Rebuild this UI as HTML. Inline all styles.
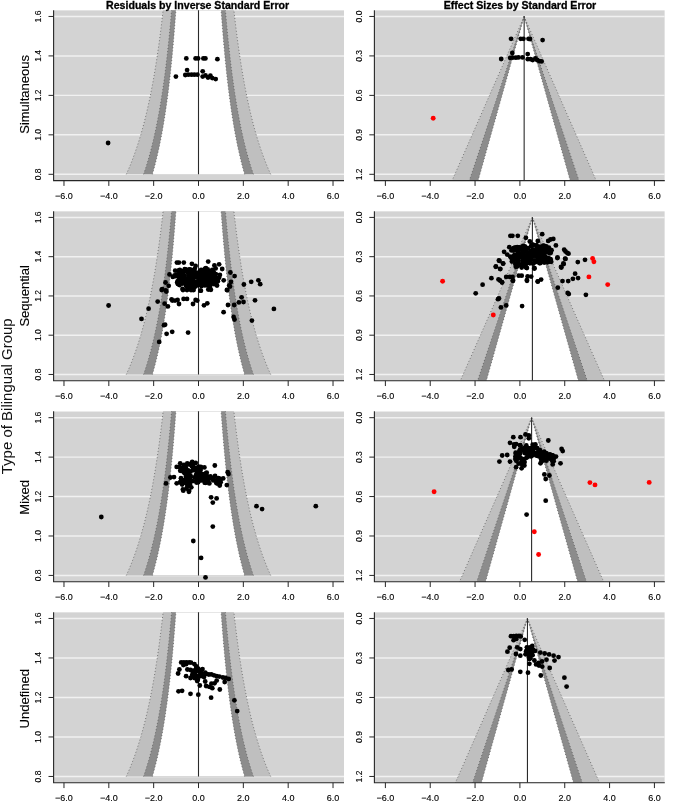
<!DOCTYPE html>
<html><head><meta charset="utf-8"><style>html,body{margin:0;padding:0;background:#fff;overflow:hidden}svg{display:block}svg{will-change:transform}</style></head>
<body>
<svg width="676" height="802" viewBox="0 0 676 802">
<style>.tk{font:9px "Liberation Sans",sans-serif;fill:#000;stroke:#000;stroke-width:0.12}.ty{font-size:8.5px}.rl{font:13px "Liberation Sans",sans-serif;fill:#000;stroke:#000;stroke-width:0.12}.bl{font:15px "Liberation Sans",sans-serif;fill:#111}.tt{font:bold 10.6px "Liberation Sans",sans-serif;fill:#000;stroke:#000;stroke-width:0.3}</style>
<rect width="676" height="802" fill="#fff"/>
<clipPath id="c0L"><rect x="54.0" y="10.15" width="290" height="170.47"/></clipPath>
<g clip-path="url(#c0L)">
<rect x="54.0" y="10.15" width="290" height="170.47" fill="#d3d3d3"/>
<line x1="54.0" y1="16.46" x2="344.0" y2="16.46" stroke="#f1f1f1" stroke-width="1.45"/>
<line x1="54.0" y1="55.92" x2="344.0" y2="55.92" stroke="#f1f1f1" stroke-width="1.45"/>
<line x1="54.0" y1="95.38" x2="344.0" y2="95.38" stroke="#f1f1f1" stroke-width="1.45"/>
<line x1="54.0" y1="134.84" x2="344.0" y2="134.84" stroke="#f1f1f1" stroke-width="1.45"/>
<line x1="54.0" y1="174.3" x2="344.0" y2="174.3" stroke="#f1f1f1" stroke-width="1.45"/>
<path d="M126.31,174.3 L127.2,172.33 L128.07,170.35 L128.92,168.38 L129.75,166.41 L130.56,164.44 L131.35,162.46 L132.12,160.49 L132.88,158.52 L133.61,156.54 L134.33,154.57 L135.04,152.6 L135.73,150.62 L136.4,148.65 L137.06,146.68 L137.71,144.71 L138.34,142.73 L138.96,140.76 L139.57,138.79 L140.17,136.81 L140.75,134.84 L141.32,132.87 L141.88,130.89 L142.43,128.92 L142.97,126.95 L143.5,124.98 L144.02,123 L144.53,121.03 L145.03,119.06 L145.52,117.08 L146,115.11 L146.47,113.14 L146.94,111.16 L147.39,109.19 L147.84,107.22 L148.28,105.24 L148.72,103.27 L149.14,101.3 L149.56,99.33 L149.97,97.35 L150.38,95.38 L150.77,93.41 L151.16,91.43 L151.55,89.46 L151.93,87.49 L152.3,85.52 L152.67,83.54 L153.03,81.57 L153.38,79.6 L153.73,77.62 L154.08,75.65 L154.42,73.68 L154.75,71.7 L155.08,69.73 L155.4,67.76 L155.72,65.78 L156.04,63.81 L156.35,61.84 L156.65,59.87 L156.95,57.89 L157.25,55.92 L157.54,53.95 L157.83,51.97 L158.12,50 L158.4,48.03 L158.67,46.05 L158.95,44.08 L159.21,42.11 L159.48,40.14 L159.74,38.16 L160,36.19 L160.26,34.22 L160.51,32.24 L160.76,30.27 L161,28.3 L161.24,26.33 L161.48,24.35 L161.72,22.38 L161.95,20.41 L162.18,18.43 L162.41,16.46 L162.63,14.49 L162.85,12.51 L163.07,10.54 L163.29,8.57 L163.5,6.6 L163.71,4.62 L163.92,2.65 L164.13,0.68 L164.33,-1.3 L232.67,-1.3 L232.87,0.68 L233.08,2.65 L233.29,4.62 L233.5,6.6 L233.71,8.57 L233.93,10.54 L234.15,12.51 L234.37,14.49 L234.59,16.46 L234.82,18.43 L235.05,20.41 L235.28,22.38 L235.52,24.35 L235.76,26.33 L236,28.3 L236.24,30.27 L236.49,32.24 L236.74,34.22 L237,36.19 L237.26,38.16 L237.52,40.14 L237.79,42.11 L238.05,44.08 L238.33,46.05 L238.6,48.03 L238.88,50 L239.17,51.97 L239.46,53.95 L239.75,55.92 L240.05,57.89 L240.35,59.87 L240.65,61.84 L240.96,63.81 L241.28,65.78 L241.6,67.76 L241.92,69.73 L242.25,71.7 L242.58,73.68 L242.92,75.65 L243.27,77.62 L243.62,79.6 L243.97,81.57 L244.33,83.54 L244.7,85.52 L245.07,87.49 L245.45,89.46 L245.84,91.43 L246.23,93.41 L246.62,95.38 L247.03,97.35 L247.44,99.33 L247.86,101.3 L248.28,103.27 L248.72,105.24 L249.16,107.22 L249.61,109.19 L250.06,111.16 L250.53,113.14 L251,115.11 L251.48,117.08 L251.97,119.06 L252.47,121.03 L252.98,123 L253.5,124.98 L254.03,126.95 L254.57,128.92 L255.12,130.89 L255.68,132.87 L256.25,134.84 L256.83,136.81 L257.43,138.79 L258.04,140.76 L258.66,142.73 L259.29,144.71 L259.94,146.68 L260.6,148.65 L261.27,150.62 L261.96,152.6 L262.67,154.57 L263.39,156.54 L264.12,158.52 L264.88,160.49 L265.65,162.46 L266.44,164.44 L267.25,166.41 L268.08,168.38 L268.93,170.35 L269.8,172.33 L270.69,174.3Z" fill="#bfbfbf"/>
<path d="M143.57,174.3 L144.25,172.33 L144.91,170.35 L145.56,168.38 L146.19,166.41 L146.8,164.44 L147.4,162.46 L147.99,160.49 L148.56,158.52 L149.13,156.54 L149.67,154.57 L150.21,152.6 L150.74,150.62 L151.25,148.65 L151.75,146.68 L152.24,144.71 L152.73,142.73 L153.2,140.76 L153.66,138.79 L154.11,136.81 L154.56,134.84 L154.99,132.87 L155.42,130.89 L155.84,128.92 L156.25,126.95 L156.65,124.98 L157.04,123 L157.43,121.03 L157.81,119.06 L158.19,117.08 L158.55,115.11 L158.91,113.14 L159.26,111.16 L159.61,109.19 L159.95,107.22 L160.29,105.24 L160.62,103.27 L160.94,101.3 L161.26,99.33 L161.57,97.35 L161.88,95.38 L162.18,93.41 L162.48,91.43 L162.77,89.46 L163.06,87.49 L163.35,85.52 L163.62,83.54 L163.9,81.57 L164.17,79.6 L164.44,77.62 L164.7,75.65 L164.96,73.68 L165.21,71.7 L165.46,69.73 L165.71,67.76 L165.95,65.78 L166.19,63.81 L166.42,61.84 L166.66,59.87 L166.89,57.89 L167.11,55.92 L167.33,53.95 L167.55,51.97 L167.77,50 L167.98,48.03 L168.19,46.05 L168.4,44.08 L168.61,42.11 L168.81,40.14 L169.01,38.16 L169.2,36.19 L169.4,34.22 L169.59,32.24 L169.78,30.27 L169.97,28.3 L170.15,26.33 L170.33,24.35 L170.51,22.38 L170.69,20.41 L170.86,18.43 L171.04,16.46 L171.21,14.49 L171.37,12.51 L171.54,10.54 L171.71,8.57 L171.87,6.6 L172.03,4.62 L172.19,2.65 L172.34,0.68 L172.5,-1.3 L224.5,-1.3 L224.66,0.68 L224.81,2.65 L224.97,4.62 L225.13,6.6 L225.29,8.57 L225.46,10.54 L225.63,12.51 L225.79,14.49 L225.96,16.46 L226.14,18.43 L226.31,20.41 L226.49,22.38 L226.67,24.35 L226.85,26.33 L227.03,28.3 L227.22,30.27 L227.41,32.24 L227.6,34.22 L227.8,36.19 L227.99,38.16 L228.19,40.14 L228.39,42.11 L228.6,44.08 L228.81,46.05 L229.02,48.03 L229.23,50 L229.45,51.97 L229.67,53.95 L229.89,55.92 L230.11,57.89 L230.34,59.87 L230.58,61.84 L230.81,63.81 L231.05,65.78 L231.29,67.76 L231.54,69.73 L231.79,71.7 L232.04,73.68 L232.3,75.65 L232.56,77.62 L232.83,79.6 L233.1,81.57 L233.38,83.54 L233.65,85.52 L233.94,87.49 L234.23,89.46 L234.52,91.43 L234.82,93.41 L235.12,95.38 L235.43,97.35 L235.74,99.33 L236.06,101.3 L236.38,103.27 L236.71,105.24 L237.05,107.22 L237.39,109.19 L237.74,111.16 L238.09,113.14 L238.45,115.11 L238.81,117.08 L239.19,119.06 L239.57,121.03 L239.96,123 L240.35,124.98 L240.75,126.95 L241.16,128.92 L241.58,130.89 L242.01,132.87 L242.44,134.84 L242.89,136.81 L243.34,138.79 L243.8,140.76 L244.27,142.73 L244.76,144.71 L245.25,146.68 L245.75,148.65 L246.26,150.62 L246.79,152.6 L247.33,154.57 L247.87,156.54 L248.44,158.52 L249.01,160.49 L249.6,162.46 L250.2,164.44 L250.81,166.41 L251.44,168.38 L252.09,170.35 L252.75,172.33 L253.43,174.3Z" fill="#8c8c8c"/>
<path d="M152.4,174.3 L152.97,172.33 L153.53,170.35 L154.07,168.38 L154.6,166.41 L155.11,164.44 L155.62,162.46 L156.11,160.49 L156.59,158.52 L157.06,156.54 L157.52,154.57 L157.97,152.6 L158.41,150.62 L158.85,148.65 L159.27,146.68 L159.68,144.71 L160.08,142.73 L160.48,140.76 L160.87,138.79 L161.25,136.81 L161.62,134.84 L161.99,132.87 L162.34,130.89 L162.7,128.92 L163.04,126.95 L163.38,124.98 L163.71,123 L164.03,121.03 L164.35,119.06 L164.67,117.08 L164.97,115.11 L165.28,113.14 L165.57,111.16 L165.86,109.19 L166.15,107.22 L166.43,105.24 L166.71,103.27 L166.98,101.3 L167.25,99.33 L167.51,97.35 L167.77,95.38 L168.02,93.41 L168.27,91.43 L168.52,89.46 L168.76,87.49 L169,85.52 L169.23,83.54 L169.46,81.57 L169.69,79.6 L169.91,77.62 L170.13,75.65 L170.35,73.68 L170.56,71.7 L170.77,69.73 L170.98,67.76 L171.18,65.78 L171.38,63.81 L171.58,61.84 L171.78,59.87 L171.97,57.89 L172.16,55.92 L172.34,53.95 L172.53,51.97 L172.71,50 L172.89,48.03 L173.07,46.05 L173.24,44.08 L173.41,42.11 L173.58,40.14 L173.75,38.16 L173.91,36.19 L174.08,34.22 L174.24,32.24 L174.4,30.27 L174.55,28.3 L174.71,26.33 L174.86,24.35 L175.01,22.38 L175.16,20.41 L175.31,18.43 L175.45,16.46 L175.59,14.49 L175.74,12.51 L175.88,10.54 L176.01,8.57 L176.15,6.6 L176.28,4.62 L176.42,2.65 L176.55,0.68 L176.68,-1.3 L220.32,-1.3 L220.45,0.68 L220.58,2.65 L220.72,4.62 L220.85,6.6 L220.99,8.57 L221.12,10.54 L221.26,12.51 L221.41,14.49 L221.55,16.46 L221.69,18.43 L221.84,20.41 L221.99,22.38 L222.14,24.35 L222.29,26.33 L222.45,28.3 L222.6,30.27 L222.76,32.24 L222.92,34.22 L223.09,36.19 L223.25,38.16 L223.42,40.14 L223.59,42.11 L223.76,44.08 L223.93,46.05 L224.11,48.03 L224.29,50 L224.47,51.97 L224.66,53.95 L224.84,55.92 L225.03,57.89 L225.22,59.87 L225.42,61.84 L225.62,63.81 L225.82,65.78 L226.02,67.76 L226.23,69.73 L226.44,71.7 L226.65,73.68 L226.87,75.65 L227.09,77.62 L227.31,79.6 L227.54,81.57 L227.77,83.54 L228,85.52 L228.24,87.49 L228.48,89.46 L228.73,91.43 L228.98,93.41 L229.23,95.38 L229.49,97.35 L229.75,99.33 L230.02,101.3 L230.29,103.27 L230.57,105.24 L230.85,107.22 L231.14,109.19 L231.43,111.16 L231.72,113.14 L232.03,115.11 L232.33,117.08 L232.65,119.06 L232.97,121.03 L233.29,123 L233.62,124.98 L233.96,126.95 L234.3,128.92 L234.66,130.89 L235.01,132.87 L235.38,134.84 L235.75,136.81 L236.13,138.79 L236.52,140.76 L236.92,142.73 L237.32,144.71 L237.73,146.68 L238.15,148.65 L238.59,150.62 L239.03,152.6 L239.48,154.57 L239.94,156.54 L240.41,158.52 L240.89,160.49 L241.38,162.46 L241.89,164.44 L242.4,166.41 L242.93,168.38 L243.47,170.35 L244.03,172.33 L244.6,174.3Z" fill="#ffffff"/>
<path d="M152.4,174.3 L152.97,172.33 L153.53,170.35 L154.07,168.38 L154.6,166.41 L155.11,164.44 L155.62,162.46 L156.11,160.49 L156.59,158.52 L157.06,156.54 L157.52,154.57 L157.97,152.6 L158.41,150.62 L158.85,148.65 L159.27,146.68 L159.68,144.71 L160.08,142.73 L160.48,140.76 L160.87,138.79 L161.25,136.81 L161.62,134.84 L161.99,132.87 L162.34,130.89 L162.7,128.92 L163.04,126.95 L163.38,124.98 L163.71,123 L164.03,121.03 L164.35,119.06 L164.67,117.08 L164.97,115.11 L165.28,113.14 L165.57,111.16 L165.86,109.19 L166.15,107.22 L166.43,105.24 L166.71,103.27 L166.98,101.3 L167.25,99.33 L167.51,97.35 L167.77,95.38 L168.02,93.41 L168.27,91.43 L168.52,89.46 L168.76,87.49 L169,85.52 L169.23,83.54 L169.46,81.57 L169.69,79.6 L169.91,77.62 L170.13,75.65 L170.35,73.68 L170.56,71.7 L170.77,69.73 L170.98,67.76 L171.18,65.78 L171.38,63.81 L171.58,61.84 L171.78,59.87 L171.97,57.89 L172.16,55.92 L172.34,53.95 L172.53,51.97 L172.71,50 L172.89,48.03 L173.07,46.05 L173.24,44.08 L173.41,42.11 L173.58,40.14 L173.75,38.16 L173.91,36.19 L174.08,34.22 L174.24,32.24 L174.4,30.27 L174.55,28.3 L174.71,26.33 L174.86,24.35 L175.01,22.38 L175.16,20.41 L175.31,18.43 L175.45,16.46 L175.59,14.49 L175.74,12.51 L175.88,10.54 L176.01,8.57 L176.15,6.6 L176.28,4.62 L176.42,2.65 L176.55,0.68 L176.68,-1.3" fill="none" stroke="#555" stroke-width="0.8" stroke-dasharray="0.9 2.3"/>
<path d="M244.6,174.3 L244.03,172.33 L243.47,170.35 L242.93,168.38 L242.4,166.41 L241.89,164.44 L241.38,162.46 L240.89,160.49 L240.41,158.52 L239.94,156.54 L239.48,154.57 L239.03,152.6 L238.59,150.62 L238.15,148.65 L237.73,146.68 L237.32,144.71 L236.92,142.73 L236.52,140.76 L236.13,138.79 L235.75,136.81 L235.38,134.84 L235.01,132.87 L234.66,130.89 L234.3,128.92 L233.96,126.95 L233.62,124.98 L233.29,123 L232.97,121.03 L232.65,119.06 L232.33,117.08 L232.03,115.11 L231.72,113.14 L231.43,111.16 L231.14,109.19 L230.85,107.22 L230.57,105.24 L230.29,103.27 L230.02,101.3 L229.75,99.33 L229.49,97.35 L229.23,95.38 L228.98,93.41 L228.73,91.43 L228.48,89.46 L228.24,87.49 L228,85.52 L227.77,83.54 L227.54,81.57 L227.31,79.6 L227.09,77.62 L226.87,75.65 L226.65,73.68 L226.44,71.7 L226.23,69.73 L226.02,67.76 L225.82,65.78 L225.62,63.81 L225.42,61.84 L225.22,59.87 L225.03,57.89 L224.84,55.92 L224.66,53.95 L224.47,51.97 L224.29,50 L224.11,48.03 L223.93,46.05 L223.76,44.08 L223.59,42.11 L223.42,40.14 L223.25,38.16 L223.09,36.19 L222.92,34.22 L222.76,32.24 L222.6,30.27 L222.45,28.3 L222.29,26.33 L222.14,24.35 L221.99,22.38 L221.84,20.41 L221.69,18.43 L221.55,16.46 L221.41,14.49 L221.26,12.51 L221.12,10.54 L220.99,8.57 L220.85,6.6 L220.72,4.62 L220.58,2.65 L220.45,0.68 L220.32,-1.3" fill="none" stroke="#555" stroke-width="0.8" stroke-dasharray="0.9 2.3"/>
<path d="M143.57,174.3 L144.25,172.33 L144.91,170.35 L145.56,168.38 L146.19,166.41 L146.8,164.44 L147.4,162.46 L147.99,160.49 L148.56,158.52 L149.13,156.54 L149.67,154.57 L150.21,152.6 L150.74,150.62 L151.25,148.65 L151.75,146.68 L152.24,144.71 L152.73,142.73 L153.2,140.76 L153.66,138.79 L154.11,136.81 L154.56,134.84 L154.99,132.87 L155.42,130.89 L155.84,128.92 L156.25,126.95 L156.65,124.98 L157.04,123 L157.43,121.03 L157.81,119.06 L158.19,117.08 L158.55,115.11 L158.91,113.14 L159.26,111.16 L159.61,109.19 L159.95,107.22 L160.29,105.24 L160.62,103.27 L160.94,101.3 L161.26,99.33 L161.57,97.35 L161.88,95.38 L162.18,93.41 L162.48,91.43 L162.77,89.46 L163.06,87.49 L163.35,85.52 L163.62,83.54 L163.9,81.57 L164.17,79.6 L164.44,77.62 L164.7,75.65 L164.96,73.68 L165.21,71.7 L165.46,69.73 L165.71,67.76 L165.95,65.78 L166.19,63.81 L166.42,61.84 L166.66,59.87 L166.89,57.89 L167.11,55.92 L167.33,53.95 L167.55,51.97 L167.77,50 L167.98,48.03 L168.19,46.05 L168.4,44.08 L168.61,42.11 L168.81,40.14 L169.01,38.16 L169.2,36.19 L169.4,34.22 L169.59,32.24 L169.78,30.27 L169.97,28.3 L170.15,26.33 L170.33,24.35 L170.51,22.38 L170.69,20.41 L170.86,18.43 L171.04,16.46 L171.21,14.49 L171.37,12.51 L171.54,10.54 L171.71,8.57 L171.87,6.6 L172.03,4.62 L172.19,2.65 L172.34,0.68 L172.5,-1.3" fill="none" stroke="#555" stroke-width="0.8" stroke-dasharray="0.9 2.3"/>
<path d="M253.43,174.3 L252.75,172.33 L252.09,170.35 L251.44,168.38 L250.81,166.41 L250.2,164.44 L249.6,162.46 L249.01,160.49 L248.44,158.52 L247.87,156.54 L247.33,154.57 L246.79,152.6 L246.26,150.62 L245.75,148.65 L245.25,146.68 L244.76,144.71 L244.27,142.73 L243.8,140.76 L243.34,138.79 L242.89,136.81 L242.44,134.84 L242.01,132.87 L241.58,130.89 L241.16,128.92 L240.75,126.95 L240.35,124.98 L239.96,123 L239.57,121.03 L239.19,119.06 L238.81,117.08 L238.45,115.11 L238.09,113.14 L237.74,111.16 L237.39,109.19 L237.05,107.22 L236.71,105.24 L236.38,103.27 L236.06,101.3 L235.74,99.33 L235.43,97.35 L235.12,95.38 L234.82,93.41 L234.52,91.43 L234.23,89.46 L233.94,87.49 L233.65,85.52 L233.38,83.54 L233.1,81.57 L232.83,79.6 L232.56,77.62 L232.3,75.65 L232.04,73.68 L231.79,71.7 L231.54,69.73 L231.29,67.76 L231.05,65.78 L230.81,63.81 L230.58,61.84 L230.34,59.87 L230.11,57.89 L229.89,55.92 L229.67,53.95 L229.45,51.97 L229.23,50 L229.02,48.03 L228.81,46.05 L228.6,44.08 L228.39,42.11 L228.19,40.14 L227.99,38.16 L227.8,36.19 L227.6,34.22 L227.41,32.24 L227.22,30.27 L227.03,28.3 L226.85,26.33 L226.67,24.35 L226.49,22.38 L226.31,20.41 L226.14,18.43 L225.96,16.46 L225.79,14.49 L225.63,12.51 L225.46,10.54 L225.29,8.57 L225.13,6.6 L224.97,4.62 L224.81,2.65 L224.66,0.68 L224.5,-1.3" fill="none" stroke="#555" stroke-width="0.8" stroke-dasharray="0.9 2.3"/>
<path d="M126.31,174.3 L127.2,172.33 L128.07,170.35 L128.92,168.38 L129.75,166.41 L130.56,164.44 L131.35,162.46 L132.12,160.49 L132.88,158.52 L133.61,156.54 L134.33,154.57 L135.04,152.6 L135.73,150.62 L136.4,148.65 L137.06,146.68 L137.71,144.71 L138.34,142.73 L138.96,140.76 L139.57,138.79 L140.17,136.81 L140.75,134.84 L141.32,132.87 L141.88,130.89 L142.43,128.92 L142.97,126.95 L143.5,124.98 L144.02,123 L144.53,121.03 L145.03,119.06 L145.52,117.08 L146,115.11 L146.47,113.14 L146.94,111.16 L147.39,109.19 L147.84,107.22 L148.28,105.24 L148.72,103.27 L149.14,101.3 L149.56,99.33 L149.97,97.35 L150.38,95.38 L150.77,93.41 L151.16,91.43 L151.55,89.46 L151.93,87.49 L152.3,85.52 L152.67,83.54 L153.03,81.57 L153.38,79.6 L153.73,77.62 L154.08,75.65 L154.42,73.68 L154.75,71.7 L155.08,69.73 L155.4,67.76 L155.72,65.78 L156.04,63.81 L156.35,61.84 L156.65,59.87 L156.95,57.89 L157.25,55.92 L157.54,53.95 L157.83,51.97 L158.12,50 L158.4,48.03 L158.67,46.05 L158.95,44.08 L159.21,42.11 L159.48,40.14 L159.74,38.16 L160,36.19 L160.26,34.22 L160.51,32.24 L160.76,30.27 L161,28.3 L161.24,26.33 L161.48,24.35 L161.72,22.38 L161.95,20.41 L162.18,18.43 L162.41,16.46 L162.63,14.49 L162.85,12.51 L163.07,10.54 L163.29,8.57 L163.5,6.6 L163.71,4.62 L163.92,2.65 L164.13,0.68 L164.33,-1.3" fill="none" stroke="#555" stroke-width="0.8" stroke-dasharray="0.9 2.3"/>
<path d="M270.69,174.3 L269.8,172.33 L268.93,170.35 L268.08,168.38 L267.25,166.41 L266.44,164.44 L265.65,162.46 L264.88,160.49 L264.12,158.52 L263.39,156.54 L262.67,154.57 L261.96,152.6 L261.27,150.62 L260.6,148.65 L259.94,146.68 L259.29,144.71 L258.66,142.73 L258.04,140.76 L257.43,138.79 L256.83,136.81 L256.25,134.84 L255.68,132.87 L255.12,130.89 L254.57,128.92 L254.03,126.95 L253.5,124.98 L252.98,123 L252.47,121.03 L251.97,119.06 L251.48,117.08 L251,115.11 L250.53,113.14 L250.06,111.16 L249.61,109.19 L249.16,107.22 L248.72,105.24 L248.28,103.27 L247.86,101.3 L247.44,99.33 L247.03,97.35 L246.62,95.38 L246.23,93.41 L245.84,91.43 L245.45,89.46 L245.07,87.49 L244.7,85.52 L244.33,83.54 L243.97,81.57 L243.62,79.6 L243.27,77.62 L242.92,75.65 L242.58,73.68 L242.25,71.7 L241.92,69.73 L241.6,67.76 L241.28,65.78 L240.96,63.81 L240.65,61.84 L240.35,59.87 L240.05,57.89 L239.75,55.92 L239.46,53.95 L239.17,51.97 L238.88,50 L238.6,48.03 L238.33,46.05 L238.05,44.08 L237.79,42.11 L237.52,40.14 L237.26,38.16 L237,36.19 L236.74,34.22 L236.49,32.24 L236.24,30.27 L236,28.3 L235.76,26.33 L235.52,24.35 L235.28,22.38 L235.05,20.41 L234.82,18.43 L234.59,16.46 L234.37,14.49 L234.15,12.51 L233.93,10.54 L233.71,8.57 L233.5,6.6 L233.29,4.62 L233.08,2.65 L232.87,0.68 L232.67,-1.3" fill="none" stroke="#555" stroke-width="0.8" stroke-dasharray="0.9 2.3"/>
<line x1="198.5" y1="9.15" x2="198.5" y2="174.3" stroke="#2a2a2a" stroke-width="1.1"/>
<circle cx="186.3" cy="58.4" r="2.4"/>
<circle cx="195.6" cy="58.4" r="2.4"/>
<circle cx="198.1" cy="58.4" r="2.4"/>
<circle cx="203.4" cy="58.4" r="2.4"/>
<circle cx="205.4" cy="58.4" r="2.4"/>
<circle cx="217.4" cy="59.2" r="2.4"/>
<circle cx="187.1" cy="70.1" r="2.4"/>
<circle cx="175.9" cy="76.6" r="2.4"/>
<circle cx="185.3" cy="75" r="2.4"/>
<circle cx="188.4" cy="74.7" r="2.4"/>
<circle cx="191.5" cy="74.7" r="2.4"/>
<circle cx="194.3" cy="74.7" r="2.4"/>
<circle cx="197.4" cy="74.7" r="2.4"/>
<circle cx="202.7" cy="71.3" r="2.4"/>
<circle cx="202.7" cy="76.6" r="2.4"/>
<circle cx="205.5" cy="75.4" r="2.4"/>
<circle cx="208" cy="77.5" r="2.4"/>
<circle cx="210.4" cy="75.7" r="2.4"/>
<circle cx="212.3" cy="78.1" r="2.4"/>
<circle cx="215.7" cy="79.1" r="2.4"/>
<circle cx="108.1" cy="143" r="2.4"/>
</g>
<path d="M53.6,10.15 V180.61 H344.0" fill="none" stroke="#262626" stroke-width="1.1"/>
<line x1="48.5" y1="16.46" x2="53.6" y2="16.46" stroke="#262626" stroke-width="1"/>
<text x="40.9" y="16.46" transform="rotate(-90 40.9 16.46)" class="tk ty" text-anchor="middle">1.6</text>
<line x1="48.5" y1="55.92" x2="53.6" y2="55.92" stroke="#262626" stroke-width="1"/>
<text x="40.9" y="55.92" transform="rotate(-90 40.9 55.92)" class="tk ty" text-anchor="middle">1.4</text>
<line x1="48.5" y1="95.38" x2="53.6" y2="95.38" stroke="#262626" stroke-width="1"/>
<text x="40.9" y="95.38" transform="rotate(-90 40.9 95.38)" class="tk ty" text-anchor="middle">1.2</text>
<line x1="48.5" y1="134.84" x2="53.6" y2="134.84" stroke="#262626" stroke-width="1"/>
<text x="40.9" y="134.84" transform="rotate(-90 40.9 134.84)" class="tk ty" text-anchor="middle">1.0</text>
<line x1="48.5" y1="174.3" x2="53.6" y2="174.3" stroke="#262626" stroke-width="1"/>
<text x="40.9" y="174.3" transform="rotate(-90 40.9 174.3)" class="tk ty" text-anchor="middle">0.8</text>
<line x1="63.98" y1="180.61" x2="63.98" y2="185.91" stroke="#262626" stroke-width="1"/>
<text x="63.98" y="198.91" class="tk" text-anchor="middle">−6.0</text>
<line x1="108.82" y1="180.61" x2="108.82" y2="185.91" stroke="#262626" stroke-width="1"/>
<text x="108.82" y="198.91" class="tk" text-anchor="middle">−4.0</text>
<line x1="153.66" y1="180.61" x2="153.66" y2="185.91" stroke="#262626" stroke-width="1"/>
<text x="153.66" y="198.91" class="tk" text-anchor="middle">−2.0</text>
<line x1="198.5" y1="180.61" x2="198.5" y2="185.91" stroke="#262626" stroke-width="1"/>
<text x="198.5" y="198.91" class="tk" text-anchor="middle">0.0</text>
<line x1="243.34" y1="180.61" x2="243.34" y2="185.91" stroke="#262626" stroke-width="1"/>
<text x="243.34" y="198.91" class="tk" text-anchor="middle">2.0</text>
<line x1="288.18" y1="180.61" x2="288.18" y2="185.91" stroke="#262626" stroke-width="1"/>
<text x="288.18" y="198.91" class="tk" text-anchor="middle">4.0</text>
<line x1="333.02" y1="180.61" x2="333.02" y2="185.91" stroke="#262626" stroke-width="1"/>
<text x="333.02" y="198.91" class="tk" text-anchor="middle">6.0</text>
<clipPath id="c0R"><rect x="374.8" y="10.15" width="290" height="170.47"/></clipPath>
<g clip-path="url(#c0R)">
<rect x="374.8" y="10.15" width="290" height="170.47" fill="#d3d3d3"/>
<line x1="374.8" y1="16.46" x2="664.8" y2="16.46" stroke="#f1f1f1" stroke-width="1.45"/>
<line x1="374.8" y1="55.92" x2="664.8" y2="55.92" stroke="#f1f1f1" stroke-width="1.45"/>
<line x1="374.8" y1="95.38" x2="664.8" y2="95.38" stroke="#f1f1f1" stroke-width="1.45"/>
<line x1="374.8" y1="134.84" x2="664.8" y2="134.84" stroke="#f1f1f1" stroke-width="1.45"/>
<line x1="374.8" y1="174.3" x2="664.8" y2="174.3" stroke="#f1f1f1" stroke-width="1.45"/>
<path d="M524.15,16.46 L605,200.61 L443.3,200.61Z" fill="#bfbfbf"/>
<path d="M524.15,16.46 L585.67,200.61 L462.63,200.61Z" fill="#8c8c8c"/>
<path d="M524.15,16.46 L575.78,200.61 L472.52,200.61Z" fill="#ffffff"/>
<line x1="524.15" y1="16.46" x2="472.52" y2="200.61" stroke="#555" stroke-width="0.8" stroke-dasharray="0.9 2.3"/>
<line x1="524.15" y1="16.46" x2="575.78" y2="200.61" stroke="#555" stroke-width="0.8" stroke-dasharray="0.9 2.3"/>
<line x1="524.15" y1="16.46" x2="462.63" y2="200.61" stroke="#555" stroke-width="0.8" stroke-dasharray="0.9 2.3"/>
<line x1="524.15" y1="16.46" x2="585.67" y2="200.61" stroke="#555" stroke-width="0.8" stroke-dasharray="0.9 2.3"/>
<line x1="524.15" y1="16.46" x2="443.3" y2="200.61" stroke="#555" stroke-width="0.8" stroke-dasharray="0.9 2.3"/>
<line x1="524.15" y1="16.46" x2="605" y2="200.61" stroke="#555" stroke-width="0.8" stroke-dasharray="0.9 2.3"/>
<line x1="524.15" y1="16.46" x2="524.15" y2="180.61" stroke="#2a2a2a" stroke-width="1.1"/>
<circle cx="511.1" cy="38.8" r="2.4"/>
<circle cx="520.7" cy="38.8" r="2.4"/>
<circle cx="523.4" cy="38.8" r="2.4"/>
<circle cx="528.5" cy="38.8" r="2.4"/>
<circle cx="530" cy="39" r="2.4"/>
<circle cx="542.6" cy="40.1" r="2.4"/>
<circle cx="512.3" cy="53" r="2.4"/>
<circle cx="501.2" cy="59" r="2.4"/>
<circle cx="510.1" cy="57.8" r="2.4"/>
<circle cx="512.7" cy="57.7" r="2.4"/>
<circle cx="515.9" cy="57.7" r="2.4"/>
<circle cx="518.5" cy="57.4" r="2.4"/>
<circle cx="522.5" cy="57.4" r="2.4"/>
<circle cx="527.7" cy="54.1" r="2.4"/>
<circle cx="527.8" cy="59.2" r="2.4"/>
<circle cx="530.5" cy="59.2" r="2.4"/>
<circle cx="532.7" cy="60" r="2.4"/>
<circle cx="535.4" cy="58.3" r="2.4"/>
<circle cx="537.1" cy="60" r="2.4"/>
<circle cx="539.4" cy="61.2" r="2.4"/>
<circle cx="541.6" cy="61.4" r="2.4"/>
<circle cx="433.2" cy="118.3" r="2.45" fill="#ff0000"/>
</g>
<path d="M374.4,10.15 V180.61 H664.8" fill="none" stroke="#262626" stroke-width="1.1"/>
<line x1="369.3" y1="16.46" x2="374.4" y2="16.46" stroke="#262626" stroke-width="1"/>
<text x="361.7" y="16.46" transform="rotate(-90 361.7 16.46)" class="tk ty" text-anchor="middle">0.0</text>
<line x1="369.3" y1="55.92" x2="374.4" y2="55.92" stroke="#262626" stroke-width="1"/>
<text x="361.7" y="55.92" transform="rotate(-90 361.7 55.92)" class="tk ty" text-anchor="middle">0.3</text>
<line x1="369.3" y1="95.38" x2="374.4" y2="95.38" stroke="#262626" stroke-width="1"/>
<text x="361.7" y="95.38" transform="rotate(-90 361.7 95.38)" class="tk ty" text-anchor="middle">0.6</text>
<line x1="369.3" y1="134.84" x2="374.4" y2="134.84" stroke="#262626" stroke-width="1"/>
<text x="361.7" y="134.84" transform="rotate(-90 361.7 134.84)" class="tk ty" text-anchor="middle">0.9</text>
<line x1="369.3" y1="174.3" x2="374.4" y2="174.3" stroke="#262626" stroke-width="1"/>
<text x="361.7" y="174.3" transform="rotate(-90 361.7 174.3)" class="tk ty" text-anchor="middle">1.2</text>
<line x1="385.38" y1="180.61" x2="385.38" y2="185.91" stroke="#262626" stroke-width="1"/>
<text x="385.38" y="198.91" class="tk" text-anchor="middle">−6.0</text>
<line x1="430.22" y1="180.61" x2="430.22" y2="185.91" stroke="#262626" stroke-width="1"/>
<text x="430.22" y="198.91" class="tk" text-anchor="middle">−4.0</text>
<line x1="475.06" y1="180.61" x2="475.06" y2="185.91" stroke="#262626" stroke-width="1"/>
<text x="475.06" y="198.91" class="tk" text-anchor="middle">−2.0</text>
<line x1="519.9" y1="180.61" x2="519.9" y2="185.91" stroke="#262626" stroke-width="1"/>
<text x="519.9" y="198.91" class="tk" text-anchor="middle">0.0</text>
<line x1="564.74" y1="180.61" x2="564.74" y2="185.91" stroke="#262626" stroke-width="1"/>
<text x="564.74" y="198.91" class="tk" text-anchor="middle">2.0</text>
<line x1="609.58" y1="180.61" x2="609.58" y2="185.91" stroke="#262626" stroke-width="1"/>
<text x="609.58" y="198.91" class="tk" text-anchor="middle">4.0</text>
<line x1="654.42" y1="180.61" x2="654.42" y2="185.91" stroke="#262626" stroke-width="1"/>
<text x="654.42" y="198.91" class="tk" text-anchor="middle">6.0</text>
<clipPath id="c1L"><rect x="54.0" y="211.14" width="290" height="169.6"/></clipPath>
<g clip-path="url(#c1L)">
<rect x="54.0" y="211.14" width="290" height="169.6" fill="#d3d3d3"/>
<line x1="54.0" y1="217.42" x2="344.0" y2="217.42" stroke="#f1f1f1" stroke-width="1.45"/>
<line x1="54.0" y1="256.68" x2="344.0" y2="256.68" stroke="#f1f1f1" stroke-width="1.45"/>
<line x1="54.0" y1="295.94" x2="344.0" y2="295.94" stroke="#f1f1f1" stroke-width="1.45"/>
<line x1="54.0" y1="335.2" x2="344.0" y2="335.2" stroke="#f1f1f1" stroke-width="1.45"/>
<line x1="54.0" y1="374.46" x2="344.0" y2="374.46" stroke="#f1f1f1" stroke-width="1.45"/>
<path d="M126.31,374.46 L127.2,372.5 L128.07,370.53 L128.92,368.57 L129.75,366.61 L130.56,364.64 L131.35,362.68 L132.12,360.72 L132.88,358.76 L133.61,356.79 L134.33,354.83 L135.04,352.87 L135.73,350.9 L136.4,348.94 L137.06,346.98 L137.71,345.01 L138.34,343.05 L138.96,341.09 L139.57,339.13 L140.17,337.16 L140.75,335.2 L141.32,333.24 L141.88,331.27 L142.43,329.31 L142.97,327.35 L143.5,325.38 L144.02,323.42 L144.53,321.46 L145.03,319.5 L145.52,317.53 L146,315.57 L146.47,313.61 L146.94,311.64 L147.39,309.68 L147.84,307.72 L148.28,305.75 L148.72,303.79 L149.14,301.83 L149.56,299.87 L149.97,297.9 L150.38,295.94 L150.77,293.98 L151.16,292.01 L151.55,290.05 L151.93,288.09 L152.3,286.12 L152.67,284.16 L153.03,282.2 L153.38,280.24 L153.73,278.27 L154.08,276.31 L154.42,274.35 L154.75,272.38 L155.08,270.42 L155.4,268.46 L155.72,266.5 L156.04,264.53 L156.35,262.57 L156.65,260.61 L156.95,258.64 L157.25,256.68 L157.54,254.72 L157.83,252.75 L158.12,250.79 L158.4,248.83 L158.67,246.86 L158.95,244.9 L159.21,242.94 L159.48,240.98 L159.74,239.01 L160,237.05 L160.26,235.09 L160.51,233.12 L160.76,231.16 L161,229.2 L161.24,227.23 L161.48,225.27 L161.72,223.31 L161.95,221.35 L162.18,219.38 L162.41,217.42 L162.63,215.46 L162.85,213.49 L163.07,211.53 L163.29,209.57 L163.5,207.61 L163.71,205.64 L163.92,203.68 L164.13,201.72 L164.33,199.75 L232.67,199.75 L232.87,201.72 L233.08,203.68 L233.29,205.64 L233.5,207.61 L233.71,209.57 L233.93,211.53 L234.15,213.49 L234.37,215.46 L234.59,217.42 L234.82,219.38 L235.05,221.35 L235.28,223.31 L235.52,225.27 L235.76,227.23 L236,229.2 L236.24,231.16 L236.49,233.12 L236.74,235.09 L237,237.05 L237.26,239.01 L237.52,240.98 L237.79,242.94 L238.05,244.9 L238.33,246.86 L238.6,248.83 L238.88,250.79 L239.17,252.75 L239.46,254.72 L239.75,256.68 L240.05,258.64 L240.35,260.61 L240.65,262.57 L240.96,264.53 L241.28,266.5 L241.6,268.46 L241.92,270.42 L242.25,272.38 L242.58,274.35 L242.92,276.31 L243.27,278.27 L243.62,280.24 L243.97,282.2 L244.33,284.16 L244.7,286.12 L245.07,288.09 L245.45,290.05 L245.84,292.01 L246.23,293.98 L246.62,295.94 L247.03,297.9 L247.44,299.87 L247.86,301.83 L248.28,303.79 L248.72,305.75 L249.16,307.72 L249.61,309.68 L250.06,311.64 L250.53,313.61 L251,315.57 L251.48,317.53 L251.97,319.5 L252.47,321.46 L252.98,323.42 L253.5,325.38 L254.03,327.35 L254.57,329.31 L255.12,331.27 L255.68,333.24 L256.25,335.2 L256.83,337.16 L257.43,339.13 L258.04,341.09 L258.66,343.05 L259.29,345.01 L259.94,346.98 L260.6,348.94 L261.27,350.9 L261.96,352.87 L262.67,354.83 L263.39,356.79 L264.12,358.76 L264.88,360.72 L265.65,362.68 L266.44,364.64 L267.25,366.61 L268.08,368.57 L268.93,370.53 L269.8,372.5 L270.69,374.46Z" fill="#bfbfbf"/>
<path d="M143.57,374.46 L144.25,372.5 L144.91,370.53 L145.56,368.57 L146.19,366.61 L146.8,364.64 L147.4,362.68 L147.99,360.72 L148.56,358.76 L149.13,356.79 L149.67,354.83 L150.21,352.87 L150.74,350.9 L151.25,348.94 L151.75,346.98 L152.24,345.01 L152.73,343.05 L153.2,341.09 L153.66,339.13 L154.11,337.16 L154.56,335.2 L154.99,333.24 L155.42,331.27 L155.84,329.31 L156.25,327.35 L156.65,325.38 L157.04,323.42 L157.43,321.46 L157.81,319.5 L158.19,317.53 L158.55,315.57 L158.91,313.61 L159.26,311.64 L159.61,309.68 L159.95,307.72 L160.29,305.75 L160.62,303.79 L160.94,301.83 L161.26,299.87 L161.57,297.9 L161.88,295.94 L162.18,293.98 L162.48,292.01 L162.77,290.05 L163.06,288.09 L163.35,286.12 L163.62,284.16 L163.9,282.2 L164.17,280.24 L164.44,278.27 L164.7,276.31 L164.96,274.35 L165.21,272.38 L165.46,270.42 L165.71,268.46 L165.95,266.5 L166.19,264.53 L166.42,262.57 L166.66,260.61 L166.89,258.64 L167.11,256.68 L167.33,254.72 L167.55,252.75 L167.77,250.79 L167.98,248.83 L168.19,246.86 L168.4,244.9 L168.61,242.94 L168.81,240.98 L169.01,239.01 L169.2,237.05 L169.4,235.09 L169.59,233.12 L169.78,231.16 L169.97,229.2 L170.15,227.23 L170.33,225.27 L170.51,223.31 L170.69,221.35 L170.86,219.38 L171.04,217.42 L171.21,215.46 L171.37,213.49 L171.54,211.53 L171.71,209.57 L171.87,207.61 L172.03,205.64 L172.19,203.68 L172.34,201.72 L172.5,199.75 L224.5,199.75 L224.66,201.72 L224.81,203.68 L224.97,205.64 L225.13,207.61 L225.29,209.57 L225.46,211.53 L225.63,213.49 L225.79,215.46 L225.96,217.42 L226.14,219.38 L226.31,221.35 L226.49,223.31 L226.67,225.27 L226.85,227.23 L227.03,229.2 L227.22,231.16 L227.41,233.12 L227.6,235.09 L227.8,237.05 L227.99,239.01 L228.19,240.98 L228.39,242.94 L228.6,244.9 L228.81,246.86 L229.02,248.83 L229.23,250.79 L229.45,252.75 L229.67,254.72 L229.89,256.68 L230.11,258.64 L230.34,260.61 L230.58,262.57 L230.81,264.53 L231.05,266.5 L231.29,268.46 L231.54,270.42 L231.79,272.38 L232.04,274.35 L232.3,276.31 L232.56,278.27 L232.83,280.24 L233.1,282.2 L233.38,284.16 L233.65,286.12 L233.94,288.09 L234.23,290.05 L234.52,292.01 L234.82,293.98 L235.12,295.94 L235.43,297.9 L235.74,299.87 L236.06,301.83 L236.38,303.79 L236.71,305.75 L237.05,307.72 L237.39,309.68 L237.74,311.64 L238.09,313.61 L238.45,315.57 L238.81,317.53 L239.19,319.5 L239.57,321.46 L239.96,323.42 L240.35,325.38 L240.75,327.35 L241.16,329.31 L241.58,331.27 L242.01,333.24 L242.44,335.2 L242.89,337.16 L243.34,339.13 L243.8,341.09 L244.27,343.05 L244.76,345.01 L245.25,346.98 L245.75,348.94 L246.26,350.9 L246.79,352.87 L247.33,354.83 L247.87,356.79 L248.44,358.76 L249.01,360.72 L249.6,362.68 L250.2,364.64 L250.81,366.61 L251.44,368.57 L252.09,370.53 L252.75,372.5 L253.43,374.46Z" fill="#8c8c8c"/>
<path d="M152.4,374.46 L152.97,372.5 L153.53,370.53 L154.07,368.57 L154.6,366.61 L155.11,364.64 L155.62,362.68 L156.11,360.72 L156.59,358.76 L157.06,356.79 L157.52,354.83 L157.97,352.87 L158.41,350.9 L158.85,348.94 L159.27,346.98 L159.68,345.01 L160.08,343.05 L160.48,341.09 L160.87,339.13 L161.25,337.16 L161.62,335.2 L161.99,333.24 L162.34,331.27 L162.7,329.31 L163.04,327.35 L163.38,325.38 L163.71,323.42 L164.03,321.46 L164.35,319.5 L164.67,317.53 L164.97,315.57 L165.28,313.61 L165.57,311.64 L165.86,309.68 L166.15,307.72 L166.43,305.75 L166.71,303.79 L166.98,301.83 L167.25,299.87 L167.51,297.9 L167.77,295.94 L168.02,293.98 L168.27,292.01 L168.52,290.05 L168.76,288.09 L169,286.12 L169.23,284.16 L169.46,282.2 L169.69,280.24 L169.91,278.27 L170.13,276.31 L170.35,274.35 L170.56,272.38 L170.77,270.42 L170.98,268.46 L171.18,266.5 L171.38,264.53 L171.58,262.57 L171.78,260.61 L171.97,258.64 L172.16,256.68 L172.34,254.72 L172.53,252.75 L172.71,250.79 L172.89,248.83 L173.07,246.86 L173.24,244.9 L173.41,242.94 L173.58,240.98 L173.75,239.01 L173.91,237.05 L174.08,235.09 L174.24,233.12 L174.4,231.16 L174.55,229.2 L174.71,227.23 L174.86,225.27 L175.01,223.31 L175.16,221.35 L175.31,219.38 L175.45,217.42 L175.59,215.46 L175.74,213.49 L175.88,211.53 L176.01,209.57 L176.15,207.61 L176.28,205.64 L176.42,203.68 L176.55,201.72 L176.68,199.75 L220.32,199.75 L220.45,201.72 L220.58,203.68 L220.72,205.64 L220.85,207.61 L220.99,209.57 L221.12,211.53 L221.26,213.49 L221.41,215.46 L221.55,217.42 L221.69,219.38 L221.84,221.35 L221.99,223.31 L222.14,225.27 L222.29,227.23 L222.45,229.2 L222.6,231.16 L222.76,233.12 L222.92,235.09 L223.09,237.05 L223.25,239.01 L223.42,240.98 L223.59,242.94 L223.76,244.9 L223.93,246.86 L224.11,248.83 L224.29,250.79 L224.47,252.75 L224.66,254.72 L224.84,256.68 L225.03,258.64 L225.22,260.61 L225.42,262.57 L225.62,264.53 L225.82,266.5 L226.02,268.46 L226.23,270.42 L226.44,272.38 L226.65,274.35 L226.87,276.31 L227.09,278.27 L227.31,280.24 L227.54,282.2 L227.77,284.16 L228,286.12 L228.24,288.09 L228.48,290.05 L228.73,292.01 L228.98,293.98 L229.23,295.94 L229.49,297.9 L229.75,299.87 L230.02,301.83 L230.29,303.79 L230.57,305.75 L230.85,307.72 L231.14,309.68 L231.43,311.64 L231.72,313.61 L232.03,315.57 L232.33,317.53 L232.65,319.5 L232.97,321.46 L233.29,323.42 L233.62,325.38 L233.96,327.35 L234.3,329.31 L234.66,331.27 L235.01,333.24 L235.38,335.2 L235.75,337.16 L236.13,339.13 L236.52,341.09 L236.92,343.05 L237.32,345.01 L237.73,346.98 L238.15,348.94 L238.59,350.9 L239.03,352.87 L239.48,354.83 L239.94,356.79 L240.41,358.76 L240.89,360.72 L241.38,362.68 L241.89,364.64 L242.4,366.61 L242.93,368.57 L243.47,370.53 L244.03,372.5 L244.6,374.46Z" fill="#ffffff"/>
<path d="M152.4,374.46 L152.97,372.5 L153.53,370.53 L154.07,368.57 L154.6,366.61 L155.11,364.64 L155.62,362.68 L156.11,360.72 L156.59,358.76 L157.06,356.79 L157.52,354.83 L157.97,352.87 L158.41,350.9 L158.85,348.94 L159.27,346.98 L159.68,345.01 L160.08,343.05 L160.48,341.09 L160.87,339.13 L161.25,337.16 L161.62,335.2 L161.99,333.24 L162.34,331.27 L162.7,329.31 L163.04,327.35 L163.38,325.38 L163.71,323.42 L164.03,321.46 L164.35,319.5 L164.67,317.53 L164.97,315.57 L165.28,313.61 L165.57,311.64 L165.86,309.68 L166.15,307.72 L166.43,305.75 L166.71,303.79 L166.98,301.83 L167.25,299.87 L167.51,297.9 L167.77,295.94 L168.02,293.98 L168.27,292.01 L168.52,290.05 L168.76,288.09 L169,286.12 L169.23,284.16 L169.46,282.2 L169.69,280.24 L169.91,278.27 L170.13,276.31 L170.35,274.35 L170.56,272.38 L170.77,270.42 L170.98,268.46 L171.18,266.5 L171.38,264.53 L171.58,262.57 L171.78,260.61 L171.97,258.64 L172.16,256.68 L172.34,254.72 L172.53,252.75 L172.71,250.79 L172.89,248.83 L173.07,246.86 L173.24,244.9 L173.41,242.94 L173.58,240.98 L173.75,239.01 L173.91,237.05 L174.08,235.09 L174.24,233.12 L174.4,231.16 L174.55,229.2 L174.71,227.23 L174.86,225.27 L175.01,223.31 L175.16,221.35 L175.31,219.38 L175.45,217.42 L175.59,215.46 L175.74,213.49 L175.88,211.53 L176.01,209.57 L176.15,207.61 L176.28,205.64 L176.42,203.68 L176.55,201.72 L176.68,199.75" fill="none" stroke="#555" stroke-width="0.8" stroke-dasharray="0.9 2.3"/>
<path d="M244.6,374.46 L244.03,372.5 L243.47,370.53 L242.93,368.57 L242.4,366.61 L241.89,364.64 L241.38,362.68 L240.89,360.72 L240.41,358.76 L239.94,356.79 L239.48,354.83 L239.03,352.87 L238.59,350.9 L238.15,348.94 L237.73,346.98 L237.32,345.01 L236.92,343.05 L236.52,341.09 L236.13,339.13 L235.75,337.16 L235.38,335.2 L235.01,333.24 L234.66,331.27 L234.3,329.31 L233.96,327.35 L233.62,325.38 L233.29,323.42 L232.97,321.46 L232.65,319.5 L232.33,317.53 L232.03,315.57 L231.72,313.61 L231.43,311.64 L231.14,309.68 L230.85,307.72 L230.57,305.75 L230.29,303.79 L230.02,301.83 L229.75,299.87 L229.49,297.9 L229.23,295.94 L228.98,293.98 L228.73,292.01 L228.48,290.05 L228.24,288.09 L228,286.12 L227.77,284.16 L227.54,282.2 L227.31,280.24 L227.09,278.27 L226.87,276.31 L226.65,274.35 L226.44,272.38 L226.23,270.42 L226.02,268.46 L225.82,266.5 L225.62,264.53 L225.42,262.57 L225.22,260.61 L225.03,258.64 L224.84,256.68 L224.66,254.72 L224.47,252.75 L224.29,250.79 L224.11,248.83 L223.93,246.86 L223.76,244.9 L223.59,242.94 L223.42,240.98 L223.25,239.01 L223.09,237.05 L222.92,235.09 L222.76,233.12 L222.6,231.16 L222.45,229.2 L222.29,227.23 L222.14,225.27 L221.99,223.31 L221.84,221.35 L221.69,219.38 L221.55,217.42 L221.41,215.46 L221.26,213.49 L221.12,211.53 L220.99,209.57 L220.85,207.61 L220.72,205.64 L220.58,203.68 L220.45,201.72 L220.32,199.75" fill="none" stroke="#555" stroke-width="0.8" stroke-dasharray="0.9 2.3"/>
<path d="M143.57,374.46 L144.25,372.5 L144.91,370.53 L145.56,368.57 L146.19,366.61 L146.8,364.64 L147.4,362.68 L147.99,360.72 L148.56,358.76 L149.13,356.79 L149.67,354.83 L150.21,352.87 L150.74,350.9 L151.25,348.94 L151.75,346.98 L152.24,345.01 L152.73,343.05 L153.2,341.09 L153.66,339.13 L154.11,337.16 L154.56,335.2 L154.99,333.24 L155.42,331.27 L155.84,329.31 L156.25,327.35 L156.65,325.38 L157.04,323.42 L157.43,321.46 L157.81,319.5 L158.19,317.53 L158.55,315.57 L158.91,313.61 L159.26,311.64 L159.61,309.68 L159.95,307.72 L160.29,305.75 L160.62,303.79 L160.94,301.83 L161.26,299.87 L161.57,297.9 L161.88,295.94 L162.18,293.98 L162.48,292.01 L162.77,290.05 L163.06,288.09 L163.35,286.12 L163.62,284.16 L163.9,282.2 L164.17,280.24 L164.44,278.27 L164.7,276.31 L164.96,274.35 L165.21,272.38 L165.46,270.42 L165.71,268.46 L165.95,266.5 L166.19,264.53 L166.42,262.57 L166.66,260.61 L166.89,258.64 L167.11,256.68 L167.33,254.72 L167.55,252.75 L167.77,250.79 L167.98,248.83 L168.19,246.86 L168.4,244.9 L168.61,242.94 L168.81,240.98 L169.01,239.01 L169.2,237.05 L169.4,235.09 L169.59,233.12 L169.78,231.16 L169.97,229.2 L170.15,227.23 L170.33,225.27 L170.51,223.31 L170.69,221.35 L170.86,219.38 L171.04,217.42 L171.21,215.46 L171.37,213.49 L171.54,211.53 L171.71,209.57 L171.87,207.61 L172.03,205.64 L172.19,203.68 L172.34,201.72 L172.5,199.75" fill="none" stroke="#555" stroke-width="0.8" stroke-dasharray="0.9 2.3"/>
<path d="M253.43,374.46 L252.75,372.5 L252.09,370.53 L251.44,368.57 L250.81,366.61 L250.2,364.64 L249.6,362.68 L249.01,360.72 L248.44,358.76 L247.87,356.79 L247.33,354.83 L246.79,352.87 L246.26,350.9 L245.75,348.94 L245.25,346.98 L244.76,345.01 L244.27,343.05 L243.8,341.09 L243.34,339.13 L242.89,337.16 L242.44,335.2 L242.01,333.24 L241.58,331.27 L241.16,329.31 L240.75,327.35 L240.35,325.38 L239.96,323.42 L239.57,321.46 L239.19,319.5 L238.81,317.53 L238.45,315.57 L238.09,313.61 L237.74,311.64 L237.39,309.68 L237.05,307.72 L236.71,305.75 L236.38,303.79 L236.06,301.83 L235.74,299.87 L235.43,297.9 L235.12,295.94 L234.82,293.98 L234.52,292.01 L234.23,290.05 L233.94,288.09 L233.65,286.12 L233.38,284.16 L233.1,282.2 L232.83,280.24 L232.56,278.27 L232.3,276.31 L232.04,274.35 L231.79,272.38 L231.54,270.42 L231.29,268.46 L231.05,266.5 L230.81,264.53 L230.58,262.57 L230.34,260.61 L230.11,258.64 L229.89,256.68 L229.67,254.72 L229.45,252.75 L229.23,250.79 L229.02,248.83 L228.81,246.86 L228.6,244.9 L228.39,242.94 L228.19,240.98 L227.99,239.01 L227.8,237.05 L227.6,235.09 L227.41,233.12 L227.22,231.16 L227.03,229.2 L226.85,227.23 L226.67,225.27 L226.49,223.31 L226.31,221.35 L226.14,219.38 L225.96,217.42 L225.79,215.46 L225.63,213.49 L225.46,211.53 L225.29,209.57 L225.13,207.61 L224.97,205.64 L224.81,203.68 L224.66,201.72 L224.5,199.75" fill="none" stroke="#555" stroke-width="0.8" stroke-dasharray="0.9 2.3"/>
<path d="M126.31,374.46 L127.2,372.5 L128.07,370.53 L128.92,368.57 L129.75,366.61 L130.56,364.64 L131.35,362.68 L132.12,360.72 L132.88,358.76 L133.61,356.79 L134.33,354.83 L135.04,352.87 L135.73,350.9 L136.4,348.94 L137.06,346.98 L137.71,345.01 L138.34,343.05 L138.96,341.09 L139.57,339.13 L140.17,337.16 L140.75,335.2 L141.32,333.24 L141.88,331.27 L142.43,329.31 L142.97,327.35 L143.5,325.38 L144.02,323.42 L144.53,321.46 L145.03,319.5 L145.52,317.53 L146,315.57 L146.47,313.61 L146.94,311.64 L147.39,309.68 L147.84,307.72 L148.28,305.75 L148.72,303.79 L149.14,301.83 L149.56,299.87 L149.97,297.9 L150.38,295.94 L150.77,293.98 L151.16,292.01 L151.55,290.05 L151.93,288.09 L152.3,286.12 L152.67,284.16 L153.03,282.2 L153.38,280.24 L153.73,278.27 L154.08,276.31 L154.42,274.35 L154.75,272.38 L155.08,270.42 L155.4,268.46 L155.72,266.5 L156.04,264.53 L156.35,262.57 L156.65,260.61 L156.95,258.64 L157.25,256.68 L157.54,254.72 L157.83,252.75 L158.12,250.79 L158.4,248.83 L158.67,246.86 L158.95,244.9 L159.21,242.94 L159.48,240.98 L159.74,239.01 L160,237.05 L160.26,235.09 L160.51,233.12 L160.76,231.16 L161,229.2 L161.24,227.23 L161.48,225.27 L161.72,223.31 L161.95,221.35 L162.18,219.38 L162.41,217.42 L162.63,215.46 L162.85,213.49 L163.07,211.53 L163.29,209.57 L163.5,207.61 L163.71,205.64 L163.92,203.68 L164.13,201.72 L164.33,199.75" fill="none" stroke="#555" stroke-width="0.8" stroke-dasharray="0.9 2.3"/>
<path d="M270.69,374.46 L269.8,372.5 L268.93,370.53 L268.08,368.57 L267.25,366.61 L266.44,364.64 L265.65,362.68 L264.88,360.72 L264.12,358.76 L263.39,356.79 L262.67,354.83 L261.96,352.87 L261.27,350.9 L260.6,348.94 L259.94,346.98 L259.29,345.01 L258.66,343.05 L258.04,341.09 L257.43,339.13 L256.83,337.16 L256.25,335.2 L255.68,333.24 L255.12,331.27 L254.57,329.31 L254.03,327.35 L253.5,325.38 L252.98,323.42 L252.47,321.46 L251.97,319.5 L251.48,317.53 L251,315.57 L250.53,313.61 L250.06,311.64 L249.61,309.68 L249.16,307.72 L248.72,305.75 L248.28,303.79 L247.86,301.83 L247.44,299.87 L247.03,297.9 L246.62,295.94 L246.23,293.98 L245.84,292.01 L245.45,290.05 L245.07,288.09 L244.7,286.12 L244.33,284.16 L243.97,282.2 L243.62,280.24 L243.27,278.27 L242.92,276.31 L242.58,274.35 L242.25,272.38 L241.92,270.42 L241.6,268.46 L241.28,266.5 L240.96,264.53 L240.65,262.57 L240.35,260.61 L240.05,258.64 L239.75,256.68 L239.46,254.72 L239.17,252.75 L238.88,250.79 L238.6,248.83 L238.33,246.86 L238.05,244.9 L237.79,242.94 L237.52,240.98 L237.26,239.01 L237,237.05 L236.74,235.09 L236.49,233.12 L236.24,231.16 L236,229.2 L235.76,227.23 L235.52,225.27 L235.28,223.31 L235.05,221.35 L234.82,219.38 L234.59,217.42 L234.37,215.46 L234.15,213.49 L233.93,211.53 L233.71,209.57 L233.5,207.61 L233.29,205.64 L233.08,203.68 L232.87,201.72 L232.67,199.75" fill="none" stroke="#555" stroke-width="0.8" stroke-dasharray="0.9 2.3"/>
<line x1="198.5" y1="210.14" x2="198.5" y2="374.46" stroke="#2a2a2a" stroke-width="1.1"/>
<circle cx="200.8" cy="275.5" r="2.4"/>
<circle cx="201.15" cy="269.87" r="2.4"/>
<circle cx="205.1" cy="268.71" r="2.4"/>
<circle cx="198.15" cy="272.94" r="2.4"/>
<circle cx="215.92" cy="279.91" r="2.4"/>
<circle cx="190.86" cy="271.83" r="2.4"/>
<circle cx="206.22" cy="276.21" r="2.4"/>
<circle cx="206.79" cy="281.39" r="2.4"/>
<circle cx="177.85" cy="284.07" r="2.4"/>
<circle cx="190.06" cy="287.37" r="2.4"/>
<circle cx="187.34" cy="278.54" r="2.4"/>
<circle cx="201.49" cy="286" r="2.4"/>
<circle cx="179.08" cy="270.33" r="2.4"/>
<circle cx="196.89" cy="285.34" r="2.4"/>
<circle cx="205.33" cy="278.15" r="2.4"/>
<circle cx="215.65" cy="268.44" r="2.4"/>
<circle cx="200.58" cy="274.12" r="2.4"/>
<circle cx="179.6" cy="285.07" r="2.4"/>
<circle cx="192.57" cy="270.86" r="2.4"/>
<circle cx="185.27" cy="280.26" r="2.4"/>
<circle cx="194.75" cy="268.83" r="2.4"/>
<circle cx="204.85" cy="285.42" r="2.4"/>
<circle cx="211.59" cy="276.8" r="2.4"/>
<circle cx="189.08" cy="275.65" r="2.4"/>
<circle cx="188.25" cy="272.73" r="2.4"/>
<circle cx="175.07" cy="275.99" r="2.4"/>
<circle cx="201.4" cy="274.53" r="2.4"/>
<circle cx="216.41" cy="281.68" r="2.4"/>
<circle cx="183.53" cy="277.94" r="2.4"/>
<circle cx="218.56" cy="277.81" r="2.4"/>
<circle cx="196.51" cy="276.32" r="2.4"/>
<circle cx="191.89" cy="275.29" r="2.4"/>
<circle cx="201.51" cy="278.28" r="2.4"/>
<circle cx="176.58" cy="276.14" r="2.4"/>
<circle cx="194.9" cy="275.69" r="2.4"/>
<circle cx="197.12" cy="275.96" r="2.4"/>
<circle cx="207.42" cy="275.36" r="2.4"/>
<circle cx="178.93" cy="270.66" r="2.4"/>
<circle cx="203.3" cy="282.03" r="2.4"/>
<circle cx="204.53" cy="279.54" r="2.4"/>
<circle cx="214.31" cy="276.77" r="2.4"/>
<circle cx="193.68" cy="286.37" r="2.4"/>
<circle cx="205.96" cy="268.23" r="2.4"/>
<circle cx="180.94" cy="273.5" r="2.4"/>
<circle cx="195.17" cy="283.46" r="2.4"/>
<circle cx="207.28" cy="277.87" r="2.4"/>
<circle cx="193.06" cy="281.45" r="2.4"/>
<circle cx="199.97" cy="271.38" r="2.4"/>
<circle cx="189.96" cy="280.52" r="2.4"/>
<circle cx="203.72" cy="269.96" r="2.4"/>
<circle cx="216.5" cy="281.15" r="2.4"/>
<circle cx="174.56" cy="275.36" r="2.4"/>
<circle cx="184.22" cy="276.21" r="2.4"/>
<circle cx="210.64" cy="280.56" r="2.4"/>
<circle cx="185.68" cy="282.23" r="2.4"/>
<circle cx="197.4" cy="277.49" r="2.4"/>
<circle cx="184.69" cy="275.82" r="2.4"/>
<circle cx="188.77" cy="283.03" r="2.4"/>
<circle cx="196.15" cy="275.95" r="2.4"/>
<circle cx="195.86" cy="276.79" r="2.4"/>
<circle cx="206.99" cy="282.86" r="2.4"/>
<circle cx="212.83" cy="274.9" r="2.4"/>
<circle cx="188.04" cy="272.8" r="2.4"/>
<circle cx="209.65" cy="280.09" r="2.4"/>
<circle cx="185.67" cy="269.37" r="2.4"/>
<circle cx="182.4" cy="283.49" r="2.4"/>
<circle cx="200.83" cy="275.76" r="2.4"/>
<circle cx="215.28" cy="279.18" r="2.4"/>
<circle cx="198.26" cy="285.13" r="2.4"/>
<circle cx="191.67" cy="279.86" r="2.4"/>
<circle cx="219.1" cy="277.58" r="2.4"/>
<circle cx="189.18" cy="274.7" r="2.4"/>
<circle cx="201.14" cy="273.45" r="2.4"/>
<circle cx="207.87" cy="280.08" r="2.4"/>
<circle cx="213.94" cy="273.34" r="2.4"/>
<circle cx="200.14" cy="276.25" r="2.4"/>
<circle cx="181.06" cy="275.6" r="2.4"/>
<circle cx="180.7" cy="280.68" r="2.4"/>
<circle cx="212.43" cy="273.76" r="2.4"/>
<circle cx="180.14" cy="280.74" r="2.4"/>
<circle cx="189.76" cy="269.35" r="2.4"/>
<circle cx="202.2" cy="275.5" r="2.4"/>
<circle cx="188.97" cy="269.58" r="2.4"/>
<circle cx="179.41" cy="274.91" r="2.4"/>
<circle cx="210.27" cy="276.5" r="2.4"/>
<circle cx="201.32" cy="275.29" r="2.4"/>
<circle cx="187.16" cy="271.99" r="2.4"/>
<circle cx="203.33" cy="280.03" r="2.4"/>
<circle cx="179.16" cy="281.78" r="2.4"/>
<circle cx="204.23" cy="276.65" r="2.4"/>
<circle cx="201.09" cy="274.75" r="2.4"/>
<circle cx="182.29" cy="273.64" r="2.4"/>
<circle cx="216.03" cy="278.09" r="2.4"/>
<circle cx="208.95" cy="273.72" r="2.4"/>
<circle cx="179.84" cy="269.85" r="2.4"/>
<circle cx="186.03" cy="285.41" r="2.4"/>
<circle cx="183.81" cy="270.89" r="2.4"/>
<circle cx="203.07" cy="279.44" r="2.4"/>
<circle cx="192.81" cy="278.59" r="2.4"/>
<circle cx="177.41" cy="274.4" r="2.4"/>
<circle cx="205.53" cy="280.44" r="2.4"/>
<circle cx="218.08" cy="278.61" r="2.4"/>
<circle cx="194.92" cy="273.15" r="2.4"/>
<circle cx="196.48" cy="282.59" r="2.4"/>
<circle cx="184.78" cy="269.11" r="2.4"/>
<circle cx="177.19" cy="282.49" r="2.4"/>
<circle cx="201.03" cy="280.72" r="2.4"/>
<circle cx="210.34" cy="275.47" r="2.4"/>
<circle cx="197.57" cy="282.69" r="2.4"/>
<circle cx="204.07" cy="280.05" r="2.4"/>
<circle cx="204.72" cy="278.2" r="2.4"/>
<circle cx="182.09" cy="272.39" r="2.4"/>
<circle cx="207.08" cy="275.25" r="2.4"/>
<circle cx="215.83" cy="274.12" r="2.4"/>
<circle cx="186.57" cy="286.18" r="2.4"/>
<circle cx="180.08" cy="280.48" r="2.4"/>
<circle cx="214.1" cy="284.21" r="2.4"/>
<circle cx="188.62" cy="281.57" r="2.4"/>
<circle cx="178.99" cy="277.04" r="2.4"/>
<circle cx="191.27" cy="276.53" r="2.4"/>
<circle cx="185.24" cy="270.01" r="2.4"/>
<circle cx="198.1" cy="281.18" r="2.4"/>
<circle cx="204.48" cy="272.66" r="2.4"/>
<circle cx="194.85" cy="281.69" r="2.4"/>
<circle cx="190.79" cy="284.29" r="2.4"/>
<circle cx="193.67" cy="281.33" r="2.4"/>
<circle cx="194.76" cy="272.53" r="2.4"/>
<circle cx="210.12" cy="283.97" r="2.4"/>
<circle cx="191.81" cy="282.31" r="2.4"/>
<circle cx="190.89" cy="286.48" r="2.4"/>
<circle cx="202.21" cy="282.01" r="2.4"/>
<circle cx="213.73" cy="274.41" r="2.4"/>
<circle cx="198.9" cy="283.61" r="2.4"/>
<circle cx="215.58" cy="279.62" r="2.4"/>
<circle cx="177.7" cy="281.26" r="2.4"/>
<circle cx="194.74" cy="286.26" r="2.4"/>
<circle cx="191.01" cy="269.91" r="2.4"/>
<circle cx="188.37" cy="279.55" r="2.4"/>
<circle cx="179" cy="276.91" r="2.4"/>
<circle cx="206.18" cy="277.34" r="2.4"/>
<circle cx="194.93" cy="286.76" r="2.4"/>
<circle cx="214.17" cy="278.58" r="2.4"/>
<circle cx="213.56" cy="274.61" r="2.4"/>
<circle cx="204.02" cy="282.65" r="2.4"/>
<circle cx="207.3" cy="272.21" r="2.4"/>
<circle cx="205.28" cy="276.05" r="2.4"/>
<circle cx="182.76" cy="277.29" r="2.4"/>
<circle cx="195.37" cy="272.29" r="2.4"/>
<circle cx="199.39" cy="280.61" r="2.4"/>
<circle cx="213.58" cy="272.33" r="2.4"/>
<circle cx="183.16" cy="274.11" r="2.4"/>
<circle cx="179.3" cy="284.36" r="2.4"/>
<circle cx="186.99" cy="284.07" r="2.4"/>
<circle cx="194.66" cy="273.56" r="2.4"/>
<circle cx="192.9" cy="281.86" r="2.4"/>
<circle cx="205.67" cy="270.7" r="2.4"/>
<circle cx="195.67" cy="284.03" r="2.4"/>
<circle cx="189.24" cy="278.62" r="2.4"/>
<circle cx="211.66" cy="282.3" r="2.4"/>
<circle cx="202.16" cy="272.11" r="2.4"/>
<circle cx="208.72" cy="273.75" r="2.4"/>
<circle cx="208.92" cy="276.56" r="2.4"/>
<circle cx="199.64" cy="272.79" r="2.4"/>
<circle cx="201.55" cy="282.97" r="2.4"/>
<circle cx="179.34" cy="276.87" r="2.4"/>
<circle cx="191.5" cy="274.49" r="2.4"/>
<circle cx="212.28" cy="269.78" r="2.4"/>
<circle cx="209.84" cy="281.3" r="2.4"/>
<circle cx="183.71" cy="281.02" r="2.4"/>
<circle cx="179.77" cy="274.89" r="2.4"/>
<circle cx="207.71" cy="269.48" r="2.4"/>
<circle cx="193.05" cy="270.46" r="2.4"/>
<circle cx="192.55" cy="270.5" r="2.4"/>
<circle cx="196.08" cy="282.67" r="2.4"/>
<circle cx="210.4" cy="285.08" r="2.4"/>
<circle cx="212.88" cy="281.28" r="2.4"/>
<circle cx="209.56" cy="283.1" r="2.4"/>
<circle cx="198.26" cy="284.79" r="2.4"/>
<circle cx="180.79" cy="282.86" r="2.4"/>
<circle cx="204.31" cy="278.33" r="2.4"/>
<circle cx="212.22" cy="282.12" r="2.4"/>
<circle cx="188.04" cy="286.42" r="2.4"/>
<circle cx="217.28" cy="279.38" r="2.4"/>
<circle cx="212.87" cy="270.79" r="2.4"/>
<circle cx="191.81" cy="277.5" r="2.4"/>
<circle cx="192.97" cy="277.72" r="2.4"/>
<circle cx="208.81" cy="271.49" r="2.4"/>
<circle cx="185.42" cy="282.36" r="2.4"/>
<circle cx="210.5" cy="278.18" r="2.4"/>
<circle cx="213.7" cy="273.52" r="2.4"/>
<circle cx="217.48" cy="280.79" r="2.4"/>
<circle cx="210.37" cy="276.04" r="2.4"/>
<circle cx="177.09" cy="274.85" r="2.4"/>
<circle cx="202.11" cy="274.97" r="2.4"/>
<circle cx="207.7" cy="285.47" r="2.4"/>
<circle cx="217.82" cy="281.33" r="2.4"/>
<circle cx="176.9" cy="262.6" r="2.4"/>
<circle cx="178.9" cy="262.6" r="2.4"/>
<circle cx="183.8" cy="262.6" r="2.4"/>
<circle cx="191.9" cy="263.8" r="2.4"/>
<circle cx="195.6" cy="265.9" r="2.4"/>
<circle cx="175.2" cy="270.7" r="2.4"/>
<circle cx="169.5" cy="274.4" r="2.4"/>
<circle cx="172.8" cy="276.9" r="2.4"/>
<circle cx="165.5" cy="282.5" r="2.4"/>
<circle cx="168.7" cy="285.8" r="2.4"/>
<circle cx="162.2" cy="289.1" r="2.4"/>
<circle cx="166.3" cy="291.5" r="2.4"/>
<circle cx="200.4" cy="290.7" r="2.4"/>
<circle cx="182.5" cy="289" r="2.4"/>
<circle cx="192.3" cy="289.9" r="2.4"/>
<circle cx="208.2" cy="261.6" r="2.4"/>
<circle cx="214.4" cy="265.5" r="2.4"/>
<circle cx="219.1" cy="264.3" r="2.4"/>
<circle cx="222.2" cy="269" r="2.4"/>
<circle cx="219.9" cy="274.9" r="2.4"/>
<circle cx="223.7" cy="280.3" r="2.4"/>
<circle cx="230.4" cy="272.5" r="2.4"/>
<circle cx="234.6" cy="276.1" r="2.4"/>
<circle cx="231" cy="281.8" r="2.4"/>
<circle cx="230" cy="286.5" r="2.4"/>
<circle cx="227.3" cy="290.1" r="2.4"/>
<circle cx="243.9" cy="284.5" r="2.4"/>
<circle cx="251.2" cy="281.8" r="2.4"/>
<circle cx="258.4" cy="280.3" r="2.4"/>
<circle cx="260.2" cy="284.2" r="2.4"/>
<circle cx="108.6" cy="305.5" r="2.4"/>
<circle cx="148.6" cy="308.7" r="2.4"/>
<circle cx="141.5" cy="318.9" r="2.4"/>
<circle cx="157.7" cy="301.6" r="2.4"/>
<circle cx="164.6" cy="303.7" r="2.4"/>
<circle cx="167.9" cy="306.4" r="2.4"/>
<circle cx="171.6" cy="299.3" r="2.4"/>
<circle cx="172.3" cy="300.6" r="2.4"/>
<circle cx="175" cy="300.6" r="2.4"/>
<circle cx="177.6" cy="300" r="2.4"/>
<circle cx="179" cy="304" r="2.4"/>
<circle cx="183.6" cy="298.9" r="2.4"/>
<circle cx="187" cy="298.9" r="2.4"/>
<circle cx="193" cy="304" r="2.4"/>
<circle cx="195.6" cy="300" r="2.4"/>
<circle cx="197.3" cy="300.6" r="2.4"/>
<circle cx="200.9" cy="290.7" r="2.4"/>
<circle cx="204" cy="305.3" r="2.4"/>
<circle cx="207.3" cy="303.3" r="2.4"/>
<circle cx="223.6" cy="312.2" r="2.4"/>
<circle cx="228" cy="305" r="2.4"/>
<circle cx="234.2" cy="305" r="2.4"/>
<circle cx="238.9" cy="302.4" r="2.4"/>
<circle cx="241.6" cy="297.3" r="2.4"/>
<circle cx="243.5" cy="302" r="2.4"/>
<circle cx="226.9" cy="290" r="2.4"/>
<circle cx="161.7" cy="290" r="2.4"/>
<circle cx="165.7" cy="290.3" r="2.4"/>
<circle cx="183" cy="290" r="2.4"/>
<circle cx="187" cy="290" r="2.4"/>
<circle cx="191" cy="290" r="2.4"/>
<circle cx="193.6" cy="290" r="2.4"/>
<circle cx="208.3" cy="289.5" r="2.4"/>
<circle cx="210.9" cy="289.8" r="2.4"/>
<circle cx="233.6" cy="317" r="2.4"/>
<circle cx="234.5" cy="319.5" r="2.4"/>
<circle cx="251.9" cy="320.6" r="2.4"/>
<circle cx="255" cy="300.3" r="2.4"/>
<circle cx="273.9" cy="308.9" r="2.4"/>
<circle cx="229.2" cy="285.5" r="2.4"/>
<circle cx="217" cy="285.5" r="2.4"/>
<circle cx="210" cy="287.7" r="2.4"/>
<circle cx="164" cy="325.2" r="2.4"/>
<circle cx="165.1" cy="324.7" r="2.4"/>
<circle cx="166.6" cy="333.8" r="2.4"/>
<circle cx="172.2" cy="331.8" r="2.4"/>
<circle cx="188.1" cy="332.6" r="2.4"/>
<circle cx="159.2" cy="341.9" r="2.4"/>
</g>
<path d="M53.6,211.14 V380.74 H344.0" fill="none" stroke="#262626" stroke-width="1.1"/>
<line x1="48.5" y1="217.42" x2="53.6" y2="217.42" stroke="#262626" stroke-width="1"/>
<text x="40.9" y="217.42" transform="rotate(-90 40.9 217.42)" class="tk ty" text-anchor="middle">1.6</text>
<line x1="48.5" y1="256.68" x2="53.6" y2="256.68" stroke="#262626" stroke-width="1"/>
<text x="40.9" y="256.68" transform="rotate(-90 40.9 256.68)" class="tk ty" text-anchor="middle">1.4</text>
<line x1="48.5" y1="295.94" x2="53.6" y2="295.94" stroke="#262626" stroke-width="1"/>
<text x="40.9" y="295.94" transform="rotate(-90 40.9 295.94)" class="tk ty" text-anchor="middle">1.2</text>
<line x1="48.5" y1="335.2" x2="53.6" y2="335.2" stroke="#262626" stroke-width="1"/>
<text x="40.9" y="335.2" transform="rotate(-90 40.9 335.2)" class="tk ty" text-anchor="middle">1.0</text>
<line x1="48.5" y1="374.46" x2="53.6" y2="374.46" stroke="#262626" stroke-width="1"/>
<text x="40.9" y="374.46" transform="rotate(-90 40.9 374.46)" class="tk ty" text-anchor="middle">0.8</text>
<line x1="63.98" y1="380.74" x2="63.98" y2="386.04" stroke="#262626" stroke-width="1"/>
<text x="63.98" y="399.04" class="tk" text-anchor="middle">−6.0</text>
<line x1="108.82" y1="380.74" x2="108.82" y2="386.04" stroke="#262626" stroke-width="1"/>
<text x="108.82" y="399.04" class="tk" text-anchor="middle">−4.0</text>
<line x1="153.66" y1="380.74" x2="153.66" y2="386.04" stroke="#262626" stroke-width="1"/>
<text x="153.66" y="399.04" class="tk" text-anchor="middle">−2.0</text>
<line x1="198.5" y1="380.74" x2="198.5" y2="386.04" stroke="#262626" stroke-width="1"/>
<text x="198.5" y="399.04" class="tk" text-anchor="middle">0.0</text>
<line x1="243.34" y1="380.74" x2="243.34" y2="386.04" stroke="#262626" stroke-width="1"/>
<text x="243.34" y="399.04" class="tk" text-anchor="middle">2.0</text>
<line x1="288.18" y1="380.74" x2="288.18" y2="386.04" stroke="#262626" stroke-width="1"/>
<text x="288.18" y="399.04" class="tk" text-anchor="middle">4.0</text>
<line x1="333.02" y1="380.74" x2="333.02" y2="386.04" stroke="#262626" stroke-width="1"/>
<text x="333.02" y="399.04" class="tk" text-anchor="middle">6.0</text>
<clipPath id="c1R"><rect x="374.8" y="211.14" width="290" height="169.6"/></clipPath>
<g clip-path="url(#c1R)">
<rect x="374.8" y="211.14" width="290" height="169.6" fill="#d3d3d3"/>
<line x1="374.8" y1="217.42" x2="664.8" y2="217.42" stroke="#f1f1f1" stroke-width="1.45"/>
<line x1="374.8" y1="256.68" x2="664.8" y2="256.68" stroke="#f1f1f1" stroke-width="1.45"/>
<line x1="374.8" y1="295.94" x2="664.8" y2="295.94" stroke="#f1f1f1" stroke-width="1.45"/>
<line x1="374.8" y1="335.2" x2="664.8" y2="335.2" stroke="#f1f1f1" stroke-width="1.45"/>
<line x1="374.8" y1="374.46" x2="664.8" y2="374.46" stroke="#f1f1f1" stroke-width="1.45"/>
<path d="M532.4,217.42 L613.25,400.63 L451.55,400.63Z" fill="#bfbfbf"/>
<path d="M532.4,217.42 L593.92,400.63 L470.88,400.63Z" fill="#8c8c8c"/>
<path d="M532.4,217.42 L584.03,400.63 L480.77,400.63Z" fill="#ffffff"/>
<line x1="532.4" y1="217.42" x2="480.77" y2="400.63" stroke="#555" stroke-width="0.8" stroke-dasharray="0.9 2.3"/>
<line x1="532.4" y1="217.42" x2="584.03" y2="400.63" stroke="#555" stroke-width="0.8" stroke-dasharray="0.9 2.3"/>
<line x1="532.4" y1="217.42" x2="470.88" y2="400.63" stroke="#555" stroke-width="0.8" stroke-dasharray="0.9 2.3"/>
<line x1="532.4" y1="217.42" x2="593.92" y2="400.63" stroke="#555" stroke-width="0.8" stroke-dasharray="0.9 2.3"/>
<line x1="532.4" y1="217.42" x2="451.55" y2="400.63" stroke="#555" stroke-width="0.8" stroke-dasharray="0.9 2.3"/>
<line x1="532.4" y1="217.42" x2="613.25" y2="400.63" stroke="#555" stroke-width="0.8" stroke-dasharray="0.9 2.3"/>
<line x1="532.4" y1="217.42" x2="532.4" y2="380.74" stroke="#2a2a2a" stroke-width="1.1"/>
<circle cx="543.15" cy="245.64" r="2.4"/>
<circle cx="550.28" cy="259.15" r="2.4"/>
<circle cx="518.48" cy="250.29" r="2.4"/>
<circle cx="541.77" cy="248.81" r="2.4"/>
<circle cx="519.66" cy="247.47" r="2.4"/>
<circle cx="546.21" cy="247.33" r="2.4"/>
<circle cx="518.07" cy="253.32" r="2.4"/>
<circle cx="534.64" cy="250.85" r="2.4"/>
<circle cx="538.66" cy="252.02" r="2.4"/>
<circle cx="540.89" cy="260.12" r="2.4"/>
<circle cx="520.81" cy="254.34" r="2.4"/>
<circle cx="529.86" cy="263.25" r="2.4"/>
<circle cx="534.15" cy="251.93" r="2.4"/>
<circle cx="531.52" cy="246.19" r="2.4"/>
<circle cx="518.26" cy="249.6" r="2.4"/>
<circle cx="547.57" cy="249.78" r="2.4"/>
<circle cx="551.54" cy="250.24" r="2.4"/>
<circle cx="531.05" cy="251.27" r="2.4"/>
<circle cx="543.4" cy="248.98" r="2.4"/>
<circle cx="531.42" cy="253.98" r="2.4"/>
<circle cx="534.88" cy="253.49" r="2.4"/>
<circle cx="545.23" cy="256.88" r="2.4"/>
<circle cx="540.98" cy="248.16" r="2.4"/>
<circle cx="523.12" cy="258.3" r="2.4"/>
<circle cx="525.45" cy="250.53" r="2.4"/>
<circle cx="537.31" cy="259.76" r="2.4"/>
<circle cx="536.16" cy="249.61" r="2.4"/>
<circle cx="547.41" cy="262.23" r="2.4"/>
<circle cx="523.87" cy="251.59" r="2.4"/>
<circle cx="532.32" cy="245.28" r="2.4"/>
<circle cx="523.02" cy="265.12" r="2.4"/>
<circle cx="540.59" cy="249.69" r="2.4"/>
<circle cx="522.41" cy="257.17" r="2.4"/>
<circle cx="541.46" cy="250.34" r="2.4"/>
<circle cx="549.35" cy="260.37" r="2.4"/>
<circle cx="535.19" cy="250.21" r="2.4"/>
<circle cx="511.45" cy="250.43" r="2.4"/>
<circle cx="543.24" cy="255.7" r="2.4"/>
<circle cx="526.15" cy="261.9" r="2.4"/>
<circle cx="514.3" cy="258.48" r="2.4"/>
<circle cx="548.24" cy="258.49" r="2.4"/>
<circle cx="535.34" cy="255.76" r="2.4"/>
<circle cx="543.92" cy="251.08" r="2.4"/>
<circle cx="518.18" cy="255.94" r="2.4"/>
<circle cx="532.43" cy="244.57" r="2.4"/>
<circle cx="532.92" cy="253.61" r="2.4"/>
<circle cx="514.34" cy="259.82" r="2.4"/>
<circle cx="545.26" cy="250.31" r="2.4"/>
<circle cx="539.48" cy="252.09" r="2.4"/>
<circle cx="541.22" cy="261.79" r="2.4"/>
<circle cx="511.5" cy="258.24" r="2.4"/>
<circle cx="516.77" cy="259.03" r="2.4"/>
<circle cx="546.04" cy="260.18" r="2.4"/>
<circle cx="527.34" cy="252.4" r="2.4"/>
<circle cx="550.17" cy="251.17" r="2.4"/>
<circle cx="534.87" cy="254.5" r="2.4"/>
<circle cx="530.37" cy="253.78" r="2.4"/>
<circle cx="529.84" cy="256.95" r="2.4"/>
<circle cx="528.06" cy="252.48" r="2.4"/>
<circle cx="536.99" cy="253.42" r="2.4"/>
<circle cx="529.63" cy="261.92" r="2.4"/>
<circle cx="525.97" cy="262.36" r="2.4"/>
<circle cx="526.71" cy="257.96" r="2.4"/>
<circle cx="544.28" cy="245.85" r="2.4"/>
<circle cx="534.96" cy="254.98" r="2.4"/>
<circle cx="517.18" cy="247.24" r="2.4"/>
<circle cx="544.37" cy="254.62" r="2.4"/>
<circle cx="539.31" cy="259.51" r="2.4"/>
<circle cx="540.48" cy="249.91" r="2.4"/>
<circle cx="549.46" cy="253.17" r="2.4"/>
<circle cx="515.31" cy="263.94" r="2.4"/>
<circle cx="550.56" cy="259.33" r="2.4"/>
<circle cx="519.98" cy="256.41" r="2.4"/>
<circle cx="539.37" cy="247.77" r="2.4"/>
<circle cx="545.95" cy="251.76" r="2.4"/>
<circle cx="527.86" cy="257.43" r="2.4"/>
<circle cx="547.02" cy="259.65" r="2.4"/>
<circle cx="529.92" cy="257.76" r="2.4"/>
<circle cx="526.58" cy="262.47" r="2.4"/>
<circle cx="549.76" cy="261.53" r="2.4"/>
<circle cx="522.55" cy="251.4" r="2.4"/>
<circle cx="540.01" cy="247.45" r="2.4"/>
<circle cx="540.94" cy="259.68" r="2.4"/>
<circle cx="519.32" cy="247.73" r="2.4"/>
<circle cx="519.04" cy="254.31" r="2.4"/>
<circle cx="515.76" cy="247.62" r="2.4"/>
<circle cx="514.56" cy="254.97" r="2.4"/>
<circle cx="534.38" cy="255.27" r="2.4"/>
<circle cx="544.92" cy="261.91" r="2.4"/>
<circle cx="541.97" cy="257.63" r="2.4"/>
<circle cx="544.71" cy="247.3" r="2.4"/>
<circle cx="524.14" cy="251.72" r="2.4"/>
<circle cx="532.41" cy="256.79" r="2.4"/>
<circle cx="535.73" cy="249.74" r="2.4"/>
<circle cx="524.51" cy="258.49" r="2.4"/>
<circle cx="538.18" cy="252.33" r="2.4"/>
<circle cx="525.9" cy="257.13" r="2.4"/>
<circle cx="546.47" cy="250.83" r="2.4"/>
<circle cx="516.31" cy="250.44" r="2.4"/>
<circle cx="513.48" cy="250.54" r="2.4"/>
<circle cx="531.48" cy="245.31" r="2.4"/>
<circle cx="535.67" cy="262.03" r="2.4"/>
<circle cx="530.52" cy="259.37" r="2.4"/>
<circle cx="540.43" cy="254.64" r="2.4"/>
<circle cx="525.94" cy="247.75" r="2.4"/>
<circle cx="548.71" cy="258.49" r="2.4"/>
<circle cx="546.27" cy="246.3" r="2.4"/>
<circle cx="520.65" cy="264.96" r="2.4"/>
<circle cx="544.15" cy="262.51" r="2.4"/>
<circle cx="518.69" cy="253.02" r="2.4"/>
<circle cx="543.96" cy="251.81" r="2.4"/>
<circle cx="537.98" cy="257.68" r="2.4"/>
<circle cx="539.8" cy="260.66" r="2.4"/>
<circle cx="542.93" cy="257.56" r="2.4"/>
<circle cx="524.85" cy="246.4" r="2.4"/>
<circle cx="513.13" cy="256.51" r="2.4"/>
<circle cx="530.52" cy="259.51" r="2.4"/>
<circle cx="513.32" cy="258.23" r="2.4"/>
<circle cx="539.33" cy="263.04" r="2.4"/>
<circle cx="523.14" cy="245.93" r="2.4"/>
<circle cx="548.96" cy="251.01" r="2.4"/>
<circle cx="534.43" cy="260.31" r="2.4"/>
<circle cx="539.32" cy="256.96" r="2.4"/>
<circle cx="514.82" cy="247.77" r="2.4"/>
<circle cx="540.79" cy="252.91" r="2.4"/>
<circle cx="540.22" cy="263.18" r="2.4"/>
<circle cx="520.34" cy="264.92" r="2.4"/>
<circle cx="542.86" cy="259.33" r="2.4"/>
<circle cx="527.58" cy="260.28" r="2.4"/>
<circle cx="538.48" cy="260.98" r="2.4"/>
<circle cx="522.46" cy="254.9" r="2.4"/>
<circle cx="541.79" cy="253.47" r="2.4"/>
<circle cx="541.79" cy="251.57" r="2.4"/>
<circle cx="521.55" cy="249.44" r="2.4"/>
<circle cx="524.95" cy="263.14" r="2.4"/>
<circle cx="536.9" cy="247.92" r="2.4"/>
<circle cx="525.21" cy="255.55" r="2.4"/>
<circle cx="531.32" cy="252.57" r="2.4"/>
<circle cx="532.82" cy="249.56" r="2.4"/>
<circle cx="524.91" cy="258.56" r="2.4"/>
<circle cx="548.24" cy="251.99" r="2.4"/>
<circle cx="538.1" cy="248.12" r="2.4"/>
<circle cx="546.52" cy="249.29" r="2.4"/>
<circle cx="513.19" cy="258.83" r="2.4"/>
<circle cx="548.7" cy="261.38" r="2.4"/>
<circle cx="550.03" cy="259.97" r="2.4"/>
<circle cx="532.18" cy="245.32" r="2.4"/>
<circle cx="533.33" cy="244.97" r="2.4"/>
<circle cx="516.94" cy="260.12" r="2.4"/>
<circle cx="525.89" cy="264.26" r="2.4"/>
<circle cx="548.89" cy="247.72" r="2.4"/>
<circle cx="520.35" cy="256.51" r="2.4"/>
<circle cx="515.21" cy="258.26" r="2.4"/>
<circle cx="527.47" cy="262.18" r="2.4"/>
<circle cx="539.18" cy="256.95" r="2.4"/>
<circle cx="510.21" cy="256.55" r="2.4"/>
<circle cx="518.32" cy="259.9" r="2.4"/>
<circle cx="522.39" cy="247.48" r="2.4"/>
<circle cx="513.55" cy="248.13" r="2.4"/>
<circle cx="512.78" cy="248.78" r="2.4"/>
<circle cx="533.25" cy="263.68" r="2.4"/>
<circle cx="545.16" cy="250.91" r="2.4"/>
<circle cx="527.78" cy="255.64" r="2.4"/>
<circle cx="536.34" cy="254.28" r="2.4"/>
<circle cx="539.52" cy="246.66" r="2.4"/>
<circle cx="517.12" cy="250.23" r="2.4"/>
<circle cx="528.41" cy="248.1" r="2.4"/>
<circle cx="527.61" cy="253.39" r="2.4"/>
<circle cx="536.6" cy="245.26" r="2.4"/>
<circle cx="539.15" cy="253.49" r="2.4"/>
<circle cx="526.5" cy="261.77" r="2.4"/>
<circle cx="550.8" cy="252.87" r="2.4"/>
<circle cx="517.79" cy="248.22" r="2.4"/>
<circle cx="538.16" cy="258.66" r="2.4"/>
<circle cx="550.05" cy="249.96" r="2.4"/>
<circle cx="518.5" cy="263.06" r="2.4"/>
<circle cx="545.15" cy="258.89" r="2.4"/>
<circle cx="546.1" cy="257.57" r="2.4"/>
<circle cx="537.46" cy="251.66" r="2.4"/>
<circle cx="511.89" cy="261.5" r="2.4"/>
<circle cx="522.35" cy="260.9" r="2.4"/>
<circle cx="551.23" cy="261.79" r="2.4"/>
<circle cx="510.4" cy="235.8" r="2.4"/>
<circle cx="512.4" cy="235.8" r="2.4"/>
<circle cx="517.8" cy="235.8" r="2.4"/>
<circle cx="525.9" cy="237.8" r="2.4"/>
<circle cx="542.2" cy="234.2" r="2.4"/>
<circle cx="529.8" cy="241.5" r="2.4"/>
<circle cx="537.8" cy="240.9" r="2.4"/>
<circle cx="548.2" cy="240.9" r="2.4"/>
<circle cx="553.3" cy="238.9" r="2.4"/>
<circle cx="550.5" cy="239.5" r="2.4"/>
<circle cx="555.9" cy="245.4" r="2.4"/>
<circle cx="509.3" cy="247.2" r="2.4"/>
<circle cx="504.1" cy="251.8" r="2.4"/>
<circle cx="564.2" cy="249.7" r="2.4"/>
<circle cx="567.3" cy="252.9" r="2.4"/>
<circle cx="507.2" cy="254.6" r="2.4"/>
<circle cx="498.9" cy="260.5" r="2.4"/>
<circle cx="503" cy="263.5" r="2.4"/>
<circle cx="495.9" cy="266.4" r="2.4"/>
<circle cx="500.1" cy="268.8" r="2.4"/>
<circle cx="557.5" cy="257.5" r="2.4"/>
<circle cx="565.1" cy="258.7" r="2.4"/>
<circle cx="563.4" cy="263.5" r="2.4"/>
<circle cx="561" cy="267" r="2.4"/>
<circle cx="534.4" cy="268.2" r="2.4"/>
<circle cx="526.1" cy="267.6" r="2.4"/>
<circle cx="517.2" cy="266.4" r="2.4"/>
<circle cx="482.6" cy="284.7" r="2.4"/>
<circle cx="475.7" cy="293.3" r="2.4"/>
<circle cx="491.4" cy="278.2" r="2.4"/>
<circle cx="498.5" cy="279.4" r="2.4"/>
<circle cx="502" cy="282.1" r="2.4"/>
<circle cx="495.8" cy="266.8" r="2.4"/>
<circle cx="500.3" cy="269.1" r="2.4"/>
<circle cx="499.5" cy="260.9" r="2.4"/>
<circle cx="503.2" cy="263.6" r="2.4"/>
<circle cx="498" cy="299.2" r="2.4"/>
<circle cx="499" cy="298.4" r="2.4"/>
<circle cx="500.9" cy="307.4" r="2.4"/>
<circle cx="506.2" cy="305.4" r="2.4"/>
<circle cx="522.1" cy="306.1" r="2.4"/>
<circle cx="506.2" cy="276.9" r="2.4"/>
<circle cx="509.9" cy="276.9" r="2.4"/>
<circle cx="512.5" cy="276.9" r="2.4"/>
<circle cx="512.8" cy="280.4" r="2.4"/>
<circle cx="518.8" cy="275.7" r="2.4"/>
<circle cx="521.7" cy="275.7" r="2.4"/>
<circle cx="526.9" cy="280.1" r="2.4"/>
<circle cx="527.6" cy="276.4" r="2.4"/>
<circle cx="515.8" cy="266.8" r="2.4"/>
<circle cx="521.7" cy="267.6" r="2.4"/>
<circle cx="526.9" cy="268" r="2.4"/>
<circle cx="502.1" cy="282.6" r="2.4"/>
<circle cx="500" cy="280.5" r="2.4"/>
<circle cx="513" cy="280.8" r="2.4"/>
<circle cx="527" cy="280.8" r="2.4"/>
<circle cx="537.8" cy="281.6" r="2.4"/>
<circle cx="585" cy="259.8" r="2.4"/>
<circle cx="577.8" cy="262.1" r="2.4"/>
<circle cx="565.5" cy="258.9" r="2.4"/>
<circle cx="563.7" cy="264.1" r="2.4"/>
<circle cx="561.4" cy="267.5" r="2.4"/>
<circle cx="568.5" cy="253.7" r="2.4"/>
<circle cx="565.5" cy="251.5" r="2.4"/>
<circle cx="557.4" cy="258.1" r="2.4"/>
<circle cx="575.1" cy="273.7" r="2.4"/>
<circle cx="578.1" cy="278.1" r="2.4"/>
<circle cx="572.9" cy="278.8" r="2.4"/>
<circle cx="568.2" cy="281.1" r="2.4"/>
<circle cx="562.5" cy="281.1" r="2.4"/>
<circle cx="557.8" cy="287.7" r="2.4"/>
<circle cx="567.7" cy="292.9" r="2.4"/>
<circle cx="568.8" cy="294.1" r="2.4"/>
<circle cx="585.9" cy="294.8" r="2.4"/>
<circle cx="541.1" cy="279.6" r="2.4"/>
<circle cx="537.7" cy="281.4" r="2.4"/>
<circle cx="534.4" cy="268.5" r="2.4"/>
<circle cx="531.2" cy="276.6" r="2.4"/>
<circle cx="442.6" cy="281.3" r="2.45" fill="#ff0000"/>
<circle cx="493.3" cy="315" r="2.45" fill="#ff0000"/>
<circle cx="592.6" cy="258.4" r="2.45" fill="#ff0000"/>
<circle cx="593.9" cy="261.8" r="2.45" fill="#ff0000"/>
<circle cx="588.9" cy="276.9" r="2.45" fill="#ff0000"/>
<circle cx="607.7" cy="284.6" r="2.45" fill="#ff0000"/>
</g>
<path d="M374.4,211.14 V380.74 H664.8" fill="none" stroke="#262626" stroke-width="1.1"/>
<line x1="369.3" y1="217.42" x2="374.4" y2="217.42" stroke="#262626" stroke-width="1"/>
<text x="361.7" y="217.42" transform="rotate(-90 361.7 217.42)" class="tk ty" text-anchor="middle">0.0</text>
<line x1="369.3" y1="256.68" x2="374.4" y2="256.68" stroke="#262626" stroke-width="1"/>
<text x="361.7" y="256.68" transform="rotate(-90 361.7 256.68)" class="tk ty" text-anchor="middle">0.3</text>
<line x1="369.3" y1="295.94" x2="374.4" y2="295.94" stroke="#262626" stroke-width="1"/>
<text x="361.7" y="295.94" transform="rotate(-90 361.7 295.94)" class="tk ty" text-anchor="middle">0.6</text>
<line x1="369.3" y1="335.2" x2="374.4" y2="335.2" stroke="#262626" stroke-width="1"/>
<text x="361.7" y="335.2" transform="rotate(-90 361.7 335.2)" class="tk ty" text-anchor="middle">0.9</text>
<line x1="369.3" y1="374.46" x2="374.4" y2="374.46" stroke="#262626" stroke-width="1"/>
<text x="361.7" y="374.46" transform="rotate(-90 361.7 374.46)" class="tk ty" text-anchor="middle">1.2</text>
<line x1="385.38" y1="380.74" x2="385.38" y2="386.04" stroke="#262626" stroke-width="1"/>
<text x="385.38" y="399.04" class="tk" text-anchor="middle">−6.0</text>
<line x1="430.22" y1="380.74" x2="430.22" y2="386.04" stroke="#262626" stroke-width="1"/>
<text x="430.22" y="399.04" class="tk" text-anchor="middle">−4.0</text>
<line x1="475.06" y1="380.74" x2="475.06" y2="386.04" stroke="#262626" stroke-width="1"/>
<text x="475.06" y="399.04" class="tk" text-anchor="middle">−2.0</text>
<line x1="519.9" y1="380.74" x2="519.9" y2="386.04" stroke="#262626" stroke-width="1"/>
<text x="519.9" y="399.04" class="tk" text-anchor="middle">0.0</text>
<line x1="564.74" y1="380.74" x2="564.74" y2="386.04" stroke="#262626" stroke-width="1"/>
<text x="564.74" y="399.04" class="tk" text-anchor="middle">2.0</text>
<line x1="609.58" y1="380.74" x2="609.58" y2="386.04" stroke="#262626" stroke-width="1"/>
<text x="609.58" y="399.04" class="tk" text-anchor="middle">4.0</text>
<line x1="654.42" y1="380.74" x2="654.42" y2="386.04" stroke="#262626" stroke-width="1"/>
<text x="654.42" y="399.04" class="tk" text-anchor="middle">6.0</text>
<clipPath id="c2L"><rect x="54.0" y="411.37" width="290" height="170.36"/></clipPath>
<g clip-path="url(#c2L)">
<rect x="54.0" y="411.37" width="290" height="170.36" fill="#d3d3d3"/>
<line x1="54.0" y1="417.68" x2="344.0" y2="417.68" stroke="#f1f1f1" stroke-width="1.45"/>
<line x1="54.0" y1="457.12" x2="344.0" y2="457.12" stroke="#f1f1f1" stroke-width="1.45"/>
<line x1="54.0" y1="496.55" x2="344.0" y2="496.55" stroke="#f1f1f1" stroke-width="1.45"/>
<line x1="54.0" y1="535.99" x2="344.0" y2="535.99" stroke="#f1f1f1" stroke-width="1.45"/>
<line x1="54.0" y1="575.42" x2="344.0" y2="575.42" stroke="#f1f1f1" stroke-width="1.45"/>
<path d="M126.31,575.42 L127.2,573.45 L128.07,571.48 L128.92,569.5 L129.75,567.53 L130.56,565.56 L131.35,563.59 L132.12,561.62 L132.88,559.65 L133.61,557.67 L134.33,555.7 L135.04,553.73 L135.73,551.76 L136.4,549.79 L137.06,547.82 L137.71,545.84 L138.34,543.87 L138.96,541.9 L139.57,539.93 L140.17,537.96 L140.75,535.99 L141.32,534.01 L141.88,532.04 L142.43,530.07 L142.97,528.1 L143.5,526.13 L144.02,524.15 L144.53,522.18 L145.03,520.21 L145.52,518.24 L146,516.27 L146.47,514.3 L146.94,512.32 L147.39,510.35 L147.84,508.38 L148.28,506.41 L148.72,504.44 L149.14,502.47 L149.56,500.49 L149.97,498.52 L150.38,496.55 L150.77,494.58 L151.16,492.61 L151.55,490.63 L151.93,488.66 L152.3,486.69 L152.67,484.72 L153.03,482.75 L153.38,480.78 L153.73,478.8 L154.08,476.83 L154.42,474.86 L154.75,472.89 L155.08,470.92 L155.4,468.95 L155.72,466.97 L156.04,465 L156.35,463.03 L156.65,461.06 L156.95,459.09 L157.25,457.12 L157.54,455.14 L157.83,453.17 L158.12,451.2 L158.4,449.23 L158.67,447.26 L158.95,445.28 L159.21,443.31 L159.48,441.34 L159.74,439.37 L160,437.4 L160.26,435.43 L160.51,433.45 L160.76,431.48 L161,429.51 L161.24,427.54 L161.48,425.57 L161.72,423.6 L161.95,421.62 L162.18,419.65 L162.41,417.68 L162.63,415.71 L162.85,413.74 L163.07,411.76 L163.29,409.79 L163.5,407.82 L163.71,405.85 L163.92,403.88 L164.13,401.91 L164.33,399.93 L232.67,399.93 L232.87,401.91 L233.08,403.88 L233.29,405.85 L233.5,407.82 L233.71,409.79 L233.93,411.76 L234.15,413.74 L234.37,415.71 L234.59,417.68 L234.82,419.65 L235.05,421.62 L235.28,423.6 L235.52,425.57 L235.76,427.54 L236,429.51 L236.24,431.48 L236.49,433.45 L236.74,435.43 L237,437.4 L237.26,439.37 L237.52,441.34 L237.79,443.31 L238.05,445.28 L238.33,447.26 L238.6,449.23 L238.88,451.2 L239.17,453.17 L239.46,455.14 L239.75,457.12 L240.05,459.09 L240.35,461.06 L240.65,463.03 L240.96,465 L241.28,466.97 L241.6,468.95 L241.92,470.92 L242.25,472.89 L242.58,474.86 L242.92,476.83 L243.27,478.8 L243.62,480.78 L243.97,482.75 L244.33,484.72 L244.7,486.69 L245.07,488.66 L245.45,490.63 L245.84,492.61 L246.23,494.58 L246.62,496.55 L247.03,498.52 L247.44,500.49 L247.86,502.47 L248.28,504.44 L248.72,506.41 L249.16,508.38 L249.61,510.35 L250.06,512.32 L250.53,514.3 L251,516.27 L251.48,518.24 L251.97,520.21 L252.47,522.18 L252.98,524.15 L253.5,526.13 L254.03,528.1 L254.57,530.07 L255.12,532.04 L255.68,534.01 L256.25,535.99 L256.83,537.96 L257.43,539.93 L258.04,541.9 L258.66,543.87 L259.29,545.84 L259.94,547.82 L260.6,549.79 L261.27,551.76 L261.96,553.73 L262.67,555.7 L263.39,557.67 L264.12,559.65 L264.88,561.62 L265.65,563.59 L266.44,565.56 L267.25,567.53 L268.08,569.5 L268.93,571.48 L269.8,573.45 L270.69,575.42Z" fill="#bfbfbf"/>
<path d="M143.57,575.42 L144.25,573.45 L144.91,571.48 L145.56,569.5 L146.19,567.53 L146.8,565.56 L147.4,563.59 L147.99,561.62 L148.56,559.65 L149.13,557.67 L149.67,555.7 L150.21,553.73 L150.74,551.76 L151.25,549.79 L151.75,547.82 L152.24,545.84 L152.73,543.87 L153.2,541.9 L153.66,539.93 L154.11,537.96 L154.56,535.99 L154.99,534.01 L155.42,532.04 L155.84,530.07 L156.25,528.1 L156.65,526.13 L157.04,524.15 L157.43,522.18 L157.81,520.21 L158.19,518.24 L158.55,516.27 L158.91,514.3 L159.26,512.32 L159.61,510.35 L159.95,508.38 L160.29,506.41 L160.62,504.44 L160.94,502.47 L161.26,500.49 L161.57,498.52 L161.88,496.55 L162.18,494.58 L162.48,492.61 L162.77,490.63 L163.06,488.66 L163.35,486.69 L163.62,484.72 L163.9,482.75 L164.17,480.78 L164.44,478.8 L164.7,476.83 L164.96,474.86 L165.21,472.89 L165.46,470.92 L165.71,468.95 L165.95,466.97 L166.19,465 L166.42,463.03 L166.66,461.06 L166.89,459.09 L167.11,457.12 L167.33,455.14 L167.55,453.17 L167.77,451.2 L167.98,449.23 L168.19,447.26 L168.4,445.28 L168.61,443.31 L168.81,441.34 L169.01,439.37 L169.2,437.4 L169.4,435.43 L169.59,433.45 L169.78,431.48 L169.97,429.51 L170.15,427.54 L170.33,425.57 L170.51,423.6 L170.69,421.62 L170.86,419.65 L171.04,417.68 L171.21,415.71 L171.37,413.74 L171.54,411.76 L171.71,409.79 L171.87,407.82 L172.03,405.85 L172.19,403.88 L172.34,401.91 L172.5,399.93 L224.5,399.93 L224.66,401.91 L224.81,403.88 L224.97,405.85 L225.13,407.82 L225.29,409.79 L225.46,411.76 L225.63,413.74 L225.79,415.71 L225.96,417.68 L226.14,419.65 L226.31,421.62 L226.49,423.6 L226.67,425.57 L226.85,427.54 L227.03,429.51 L227.22,431.48 L227.41,433.45 L227.6,435.43 L227.8,437.4 L227.99,439.37 L228.19,441.34 L228.39,443.31 L228.6,445.28 L228.81,447.26 L229.02,449.23 L229.23,451.2 L229.45,453.17 L229.67,455.14 L229.89,457.12 L230.11,459.09 L230.34,461.06 L230.58,463.03 L230.81,465 L231.05,466.97 L231.29,468.95 L231.54,470.92 L231.79,472.89 L232.04,474.86 L232.3,476.83 L232.56,478.8 L232.83,480.78 L233.1,482.75 L233.38,484.72 L233.65,486.69 L233.94,488.66 L234.23,490.63 L234.52,492.61 L234.82,494.58 L235.12,496.55 L235.43,498.52 L235.74,500.49 L236.06,502.47 L236.38,504.44 L236.71,506.41 L237.05,508.38 L237.39,510.35 L237.74,512.32 L238.09,514.3 L238.45,516.27 L238.81,518.24 L239.19,520.21 L239.57,522.18 L239.96,524.15 L240.35,526.13 L240.75,528.1 L241.16,530.07 L241.58,532.04 L242.01,534.01 L242.44,535.99 L242.89,537.96 L243.34,539.93 L243.8,541.9 L244.27,543.87 L244.76,545.84 L245.25,547.82 L245.75,549.79 L246.26,551.76 L246.79,553.73 L247.33,555.7 L247.87,557.67 L248.44,559.65 L249.01,561.62 L249.6,563.59 L250.2,565.56 L250.81,567.53 L251.44,569.5 L252.09,571.48 L252.75,573.45 L253.43,575.42Z" fill="#8c8c8c"/>
<path d="M152.4,575.42 L152.97,573.45 L153.53,571.48 L154.07,569.5 L154.6,567.53 L155.11,565.56 L155.62,563.59 L156.11,561.62 L156.59,559.65 L157.06,557.67 L157.52,555.7 L157.97,553.73 L158.41,551.76 L158.85,549.79 L159.27,547.82 L159.68,545.84 L160.08,543.87 L160.48,541.9 L160.87,539.93 L161.25,537.96 L161.62,535.99 L161.99,534.01 L162.34,532.04 L162.7,530.07 L163.04,528.1 L163.38,526.13 L163.71,524.15 L164.03,522.18 L164.35,520.21 L164.67,518.24 L164.97,516.27 L165.28,514.3 L165.57,512.32 L165.86,510.35 L166.15,508.38 L166.43,506.41 L166.71,504.44 L166.98,502.47 L167.25,500.49 L167.51,498.52 L167.77,496.55 L168.02,494.58 L168.27,492.61 L168.52,490.63 L168.76,488.66 L169,486.69 L169.23,484.72 L169.46,482.75 L169.69,480.78 L169.91,478.8 L170.13,476.83 L170.35,474.86 L170.56,472.89 L170.77,470.92 L170.98,468.95 L171.18,466.97 L171.38,465 L171.58,463.03 L171.78,461.06 L171.97,459.09 L172.16,457.12 L172.34,455.14 L172.53,453.17 L172.71,451.2 L172.89,449.23 L173.07,447.26 L173.24,445.28 L173.41,443.31 L173.58,441.34 L173.75,439.37 L173.91,437.4 L174.08,435.43 L174.24,433.45 L174.4,431.48 L174.55,429.51 L174.71,427.54 L174.86,425.57 L175.01,423.6 L175.16,421.62 L175.31,419.65 L175.45,417.68 L175.59,415.71 L175.74,413.74 L175.88,411.76 L176.01,409.79 L176.15,407.82 L176.28,405.85 L176.42,403.88 L176.55,401.91 L176.68,399.93 L220.32,399.93 L220.45,401.91 L220.58,403.88 L220.72,405.85 L220.85,407.82 L220.99,409.79 L221.12,411.76 L221.26,413.74 L221.41,415.71 L221.55,417.68 L221.69,419.65 L221.84,421.62 L221.99,423.6 L222.14,425.57 L222.29,427.54 L222.45,429.51 L222.6,431.48 L222.76,433.45 L222.92,435.43 L223.09,437.4 L223.25,439.37 L223.42,441.34 L223.59,443.31 L223.76,445.28 L223.93,447.26 L224.11,449.23 L224.29,451.2 L224.47,453.17 L224.66,455.14 L224.84,457.12 L225.03,459.09 L225.22,461.06 L225.42,463.03 L225.62,465 L225.82,466.97 L226.02,468.95 L226.23,470.92 L226.44,472.89 L226.65,474.86 L226.87,476.83 L227.09,478.8 L227.31,480.78 L227.54,482.75 L227.77,484.72 L228,486.69 L228.24,488.66 L228.48,490.63 L228.73,492.61 L228.98,494.58 L229.23,496.55 L229.49,498.52 L229.75,500.49 L230.02,502.47 L230.29,504.44 L230.57,506.41 L230.85,508.38 L231.14,510.35 L231.43,512.32 L231.72,514.3 L232.03,516.27 L232.33,518.24 L232.65,520.21 L232.97,522.18 L233.29,524.15 L233.62,526.13 L233.96,528.1 L234.3,530.07 L234.66,532.04 L235.01,534.01 L235.38,535.99 L235.75,537.96 L236.13,539.93 L236.52,541.9 L236.92,543.87 L237.32,545.84 L237.73,547.82 L238.15,549.79 L238.59,551.76 L239.03,553.73 L239.48,555.7 L239.94,557.67 L240.41,559.65 L240.89,561.62 L241.38,563.59 L241.89,565.56 L242.4,567.53 L242.93,569.5 L243.47,571.48 L244.03,573.45 L244.6,575.42Z" fill="#ffffff"/>
<path d="M152.4,575.42 L152.97,573.45 L153.53,571.48 L154.07,569.5 L154.6,567.53 L155.11,565.56 L155.62,563.59 L156.11,561.62 L156.59,559.65 L157.06,557.67 L157.52,555.7 L157.97,553.73 L158.41,551.76 L158.85,549.79 L159.27,547.82 L159.68,545.84 L160.08,543.87 L160.48,541.9 L160.87,539.93 L161.25,537.96 L161.62,535.99 L161.99,534.01 L162.34,532.04 L162.7,530.07 L163.04,528.1 L163.38,526.13 L163.71,524.15 L164.03,522.18 L164.35,520.21 L164.67,518.24 L164.97,516.27 L165.28,514.3 L165.57,512.32 L165.86,510.35 L166.15,508.38 L166.43,506.41 L166.71,504.44 L166.98,502.47 L167.25,500.49 L167.51,498.52 L167.77,496.55 L168.02,494.58 L168.27,492.61 L168.52,490.63 L168.76,488.66 L169,486.69 L169.23,484.72 L169.46,482.75 L169.69,480.78 L169.91,478.8 L170.13,476.83 L170.35,474.86 L170.56,472.89 L170.77,470.92 L170.98,468.95 L171.18,466.97 L171.38,465 L171.58,463.03 L171.78,461.06 L171.97,459.09 L172.16,457.12 L172.34,455.14 L172.53,453.17 L172.71,451.2 L172.89,449.23 L173.07,447.26 L173.24,445.28 L173.41,443.31 L173.58,441.34 L173.75,439.37 L173.91,437.4 L174.08,435.43 L174.24,433.45 L174.4,431.48 L174.55,429.51 L174.71,427.54 L174.86,425.57 L175.01,423.6 L175.16,421.62 L175.31,419.65 L175.45,417.68 L175.59,415.71 L175.74,413.74 L175.88,411.76 L176.01,409.79 L176.15,407.82 L176.28,405.85 L176.42,403.88 L176.55,401.91 L176.68,399.93" fill="none" stroke="#555" stroke-width="0.8" stroke-dasharray="0.9 2.3"/>
<path d="M244.6,575.42 L244.03,573.45 L243.47,571.48 L242.93,569.5 L242.4,567.53 L241.89,565.56 L241.38,563.59 L240.89,561.62 L240.41,559.65 L239.94,557.67 L239.48,555.7 L239.03,553.73 L238.59,551.76 L238.15,549.79 L237.73,547.82 L237.32,545.84 L236.92,543.87 L236.52,541.9 L236.13,539.93 L235.75,537.96 L235.38,535.99 L235.01,534.01 L234.66,532.04 L234.3,530.07 L233.96,528.1 L233.62,526.13 L233.29,524.15 L232.97,522.18 L232.65,520.21 L232.33,518.24 L232.03,516.27 L231.72,514.3 L231.43,512.32 L231.14,510.35 L230.85,508.38 L230.57,506.41 L230.29,504.44 L230.02,502.47 L229.75,500.49 L229.49,498.52 L229.23,496.55 L228.98,494.58 L228.73,492.61 L228.48,490.63 L228.24,488.66 L228,486.69 L227.77,484.72 L227.54,482.75 L227.31,480.78 L227.09,478.8 L226.87,476.83 L226.65,474.86 L226.44,472.89 L226.23,470.92 L226.02,468.95 L225.82,466.97 L225.62,465 L225.42,463.03 L225.22,461.06 L225.03,459.09 L224.84,457.12 L224.66,455.14 L224.47,453.17 L224.29,451.2 L224.11,449.23 L223.93,447.26 L223.76,445.28 L223.59,443.31 L223.42,441.34 L223.25,439.37 L223.09,437.4 L222.92,435.43 L222.76,433.45 L222.6,431.48 L222.45,429.51 L222.29,427.54 L222.14,425.57 L221.99,423.6 L221.84,421.62 L221.69,419.65 L221.55,417.68 L221.41,415.71 L221.26,413.74 L221.12,411.76 L220.99,409.79 L220.85,407.82 L220.72,405.85 L220.58,403.88 L220.45,401.91 L220.32,399.93" fill="none" stroke="#555" stroke-width="0.8" stroke-dasharray="0.9 2.3"/>
<path d="M143.57,575.42 L144.25,573.45 L144.91,571.48 L145.56,569.5 L146.19,567.53 L146.8,565.56 L147.4,563.59 L147.99,561.62 L148.56,559.65 L149.13,557.67 L149.67,555.7 L150.21,553.73 L150.74,551.76 L151.25,549.79 L151.75,547.82 L152.24,545.84 L152.73,543.87 L153.2,541.9 L153.66,539.93 L154.11,537.96 L154.56,535.99 L154.99,534.01 L155.42,532.04 L155.84,530.07 L156.25,528.1 L156.65,526.13 L157.04,524.15 L157.43,522.18 L157.81,520.21 L158.19,518.24 L158.55,516.27 L158.91,514.3 L159.26,512.32 L159.61,510.35 L159.95,508.38 L160.29,506.41 L160.62,504.44 L160.94,502.47 L161.26,500.49 L161.57,498.52 L161.88,496.55 L162.18,494.58 L162.48,492.61 L162.77,490.63 L163.06,488.66 L163.35,486.69 L163.62,484.72 L163.9,482.75 L164.17,480.78 L164.44,478.8 L164.7,476.83 L164.96,474.86 L165.21,472.89 L165.46,470.92 L165.71,468.95 L165.95,466.97 L166.19,465 L166.42,463.03 L166.66,461.06 L166.89,459.09 L167.11,457.12 L167.33,455.14 L167.55,453.17 L167.77,451.2 L167.98,449.23 L168.19,447.26 L168.4,445.28 L168.61,443.31 L168.81,441.34 L169.01,439.37 L169.2,437.4 L169.4,435.43 L169.59,433.45 L169.78,431.48 L169.97,429.51 L170.15,427.54 L170.33,425.57 L170.51,423.6 L170.69,421.62 L170.86,419.65 L171.04,417.68 L171.21,415.71 L171.37,413.74 L171.54,411.76 L171.71,409.79 L171.87,407.82 L172.03,405.85 L172.19,403.88 L172.34,401.91 L172.5,399.93" fill="none" stroke="#555" stroke-width="0.8" stroke-dasharray="0.9 2.3"/>
<path d="M253.43,575.42 L252.75,573.45 L252.09,571.48 L251.44,569.5 L250.81,567.53 L250.2,565.56 L249.6,563.59 L249.01,561.62 L248.44,559.65 L247.87,557.67 L247.33,555.7 L246.79,553.73 L246.26,551.76 L245.75,549.79 L245.25,547.82 L244.76,545.84 L244.27,543.87 L243.8,541.9 L243.34,539.93 L242.89,537.96 L242.44,535.99 L242.01,534.01 L241.58,532.04 L241.16,530.07 L240.75,528.1 L240.35,526.13 L239.96,524.15 L239.57,522.18 L239.19,520.21 L238.81,518.24 L238.45,516.27 L238.09,514.3 L237.74,512.32 L237.39,510.35 L237.05,508.38 L236.71,506.41 L236.38,504.44 L236.06,502.47 L235.74,500.49 L235.43,498.52 L235.12,496.55 L234.82,494.58 L234.52,492.61 L234.23,490.63 L233.94,488.66 L233.65,486.69 L233.38,484.72 L233.1,482.75 L232.83,480.78 L232.56,478.8 L232.3,476.83 L232.04,474.86 L231.79,472.89 L231.54,470.92 L231.29,468.95 L231.05,466.97 L230.81,465 L230.58,463.03 L230.34,461.06 L230.11,459.09 L229.89,457.12 L229.67,455.14 L229.45,453.17 L229.23,451.2 L229.02,449.23 L228.81,447.26 L228.6,445.28 L228.39,443.31 L228.19,441.34 L227.99,439.37 L227.8,437.4 L227.6,435.43 L227.41,433.45 L227.22,431.48 L227.03,429.51 L226.85,427.54 L226.67,425.57 L226.49,423.6 L226.31,421.62 L226.14,419.65 L225.96,417.68 L225.79,415.71 L225.63,413.74 L225.46,411.76 L225.29,409.79 L225.13,407.82 L224.97,405.85 L224.81,403.88 L224.66,401.91 L224.5,399.93" fill="none" stroke="#555" stroke-width="0.8" stroke-dasharray="0.9 2.3"/>
<path d="M126.31,575.42 L127.2,573.45 L128.07,571.48 L128.92,569.5 L129.75,567.53 L130.56,565.56 L131.35,563.59 L132.12,561.62 L132.88,559.65 L133.61,557.67 L134.33,555.7 L135.04,553.73 L135.73,551.76 L136.4,549.79 L137.06,547.82 L137.71,545.84 L138.34,543.87 L138.96,541.9 L139.57,539.93 L140.17,537.96 L140.75,535.99 L141.32,534.01 L141.88,532.04 L142.43,530.07 L142.97,528.1 L143.5,526.13 L144.02,524.15 L144.53,522.18 L145.03,520.21 L145.52,518.24 L146,516.27 L146.47,514.3 L146.94,512.32 L147.39,510.35 L147.84,508.38 L148.28,506.41 L148.72,504.44 L149.14,502.47 L149.56,500.49 L149.97,498.52 L150.38,496.55 L150.77,494.58 L151.16,492.61 L151.55,490.63 L151.93,488.66 L152.3,486.69 L152.67,484.72 L153.03,482.75 L153.38,480.78 L153.73,478.8 L154.08,476.83 L154.42,474.86 L154.75,472.89 L155.08,470.92 L155.4,468.95 L155.72,466.97 L156.04,465 L156.35,463.03 L156.65,461.06 L156.95,459.09 L157.25,457.12 L157.54,455.14 L157.83,453.17 L158.12,451.2 L158.4,449.23 L158.67,447.26 L158.95,445.28 L159.21,443.31 L159.48,441.34 L159.74,439.37 L160,437.4 L160.26,435.43 L160.51,433.45 L160.76,431.48 L161,429.51 L161.24,427.54 L161.48,425.57 L161.72,423.6 L161.95,421.62 L162.18,419.65 L162.41,417.68 L162.63,415.71 L162.85,413.74 L163.07,411.76 L163.29,409.79 L163.5,407.82 L163.71,405.85 L163.92,403.88 L164.13,401.91 L164.33,399.93" fill="none" stroke="#555" stroke-width="0.8" stroke-dasharray="0.9 2.3"/>
<path d="M270.69,575.42 L269.8,573.45 L268.93,571.48 L268.08,569.5 L267.25,567.53 L266.44,565.56 L265.65,563.59 L264.88,561.62 L264.12,559.65 L263.39,557.67 L262.67,555.7 L261.96,553.73 L261.27,551.76 L260.6,549.79 L259.94,547.82 L259.29,545.84 L258.66,543.87 L258.04,541.9 L257.43,539.93 L256.83,537.96 L256.25,535.99 L255.68,534.01 L255.12,532.04 L254.57,530.07 L254.03,528.1 L253.5,526.13 L252.98,524.15 L252.47,522.18 L251.97,520.21 L251.48,518.24 L251,516.27 L250.53,514.3 L250.06,512.32 L249.61,510.35 L249.16,508.38 L248.72,506.41 L248.28,504.44 L247.86,502.47 L247.44,500.49 L247.03,498.52 L246.62,496.55 L246.23,494.58 L245.84,492.61 L245.45,490.63 L245.07,488.66 L244.7,486.69 L244.33,484.72 L243.97,482.75 L243.62,480.78 L243.27,478.8 L242.92,476.83 L242.58,474.86 L242.25,472.89 L241.92,470.92 L241.6,468.95 L241.28,466.97 L240.96,465 L240.65,463.03 L240.35,461.06 L240.05,459.09 L239.75,457.12 L239.46,455.14 L239.17,453.17 L238.88,451.2 L238.6,449.23 L238.33,447.26 L238.05,445.28 L237.79,443.31 L237.52,441.34 L237.26,439.37 L237,437.4 L236.74,435.43 L236.49,433.45 L236.24,431.48 L236,429.51 L235.76,427.54 L235.52,425.57 L235.28,423.6 L235.05,421.62 L234.82,419.65 L234.59,417.68 L234.37,415.71 L234.15,413.74 L233.93,411.76 L233.71,409.79 L233.5,407.82 L233.29,405.85 L233.08,403.88 L232.87,401.91 L232.67,399.93" fill="none" stroke="#555" stroke-width="0.8" stroke-dasharray="0.9 2.3"/>
<line x1="198.5" y1="410.37" x2="198.5" y2="575.42" stroke="#2a2a2a" stroke-width="1.1"/>
<circle cx="220.03" cy="481.91" r="2.4"/>
<circle cx="188.02" cy="480.37" r="2.4"/>
<circle cx="180.26" cy="470.77" r="2.4"/>
<circle cx="185.49" cy="470.7" r="2.4"/>
<circle cx="196.33" cy="480.13" r="2.4"/>
<circle cx="215.07" cy="476.02" r="2.4"/>
<circle cx="184.58" cy="482.12" r="2.4"/>
<circle cx="189.2" cy="482.03" r="2.4"/>
<circle cx="181.93" cy="480.71" r="2.4"/>
<circle cx="204.87" cy="474.66" r="2.4"/>
<circle cx="182.73" cy="480.46" r="2.4"/>
<circle cx="202.69" cy="474.22" r="2.4"/>
<circle cx="217.92" cy="482.01" r="2.4"/>
<circle cx="192.23" cy="464.62" r="2.4"/>
<circle cx="205.26" cy="476.85" r="2.4"/>
<circle cx="191.68" cy="463.31" r="2.4"/>
<circle cx="186.03" cy="476.46" r="2.4"/>
<circle cx="208.18" cy="477.09" r="2.4"/>
<circle cx="181.84" cy="470.56" r="2.4"/>
<circle cx="181.39" cy="469.44" r="2.4"/>
<circle cx="194.38" cy="467.71" r="2.4"/>
<circle cx="184.94" cy="467.96" r="2.4"/>
<circle cx="190.09" cy="477.93" r="2.4"/>
<circle cx="219.06" cy="480.74" r="2.4"/>
<circle cx="184.49" cy="480.33" r="2.4"/>
<circle cx="193.21" cy="470.14" r="2.4"/>
<circle cx="220.64" cy="482.35" r="2.4"/>
<circle cx="205.79" cy="473.41" r="2.4"/>
<circle cx="204.94" cy="478.75" r="2.4"/>
<circle cx="192.97" cy="469.68" r="2.4"/>
<circle cx="187.75" cy="485.38" r="2.4"/>
<circle cx="180.99" cy="468.36" r="2.4"/>
<circle cx="182.17" cy="484.62" r="2.4"/>
<circle cx="192.49" cy="465.54" r="2.4"/>
<circle cx="186.53" cy="477.06" r="2.4"/>
<circle cx="187.4" cy="472.96" r="2.4"/>
<circle cx="194.38" cy="477.35" r="2.4"/>
<circle cx="205.33" cy="482.77" r="2.4"/>
<circle cx="189.84" cy="484.27" r="2.4"/>
<circle cx="192.62" cy="464.9" r="2.4"/>
<circle cx="199.16" cy="471.82" r="2.4"/>
<circle cx="206.3" cy="478.11" r="2.4"/>
<circle cx="206.82" cy="482.42" r="2.4"/>
<circle cx="208.97" cy="477.44" r="2.4"/>
<circle cx="207.13" cy="477.14" r="2.4"/>
<circle cx="193.51" cy="467.58" r="2.4"/>
<circle cx="200.31" cy="470.41" r="2.4"/>
<circle cx="198.48" cy="466.53" r="2.4"/>
<circle cx="218.73" cy="478.28" r="2.4"/>
<circle cx="183.61" cy="469.42" r="2.4"/>
<circle cx="210.47" cy="476.51" r="2.4"/>
<circle cx="208.38" cy="480.92" r="2.4"/>
<circle cx="181.82" cy="482.47" r="2.4"/>
<circle cx="200.04" cy="473.8" r="2.4"/>
<circle cx="184.56" cy="469.88" r="2.4"/>
<circle cx="184.58" cy="473.25" r="2.4"/>
<circle cx="213.24" cy="480.39" r="2.4"/>
<circle cx="180.83" cy="467.69" r="2.4"/>
<circle cx="185.41" cy="469.86" r="2.4"/>
<circle cx="196.74" cy="475.45" r="2.4"/>
<circle cx="193.19" cy="468.52" r="2.4"/>
<circle cx="182.62" cy="471.26" r="2.4"/>
<circle cx="193.87" cy="469.74" r="2.4"/>
<circle cx="204.63" cy="476.38" r="2.4"/>
<circle cx="218.57" cy="478.15" r="2.4"/>
<circle cx="179.59" cy="466.92" r="2.4"/>
<circle cx="216.63" cy="481.87" r="2.4"/>
<circle cx="179.88" cy="482.45" r="2.4"/>
<circle cx="203.09" cy="480.15" r="2.4"/>
<circle cx="202.44" cy="477.34" r="2.4"/>
<circle cx="197.23" cy="471.28" r="2.4"/>
<circle cx="186.93" cy="483.24" r="2.4"/>
<circle cx="200.43" cy="474.78" r="2.4"/>
<circle cx="200.28" cy="469.76" r="2.4"/>
<circle cx="219.67" cy="484.38" r="2.4"/>
<circle cx="188.17" cy="470.41" r="2.4"/>
<circle cx="201.58" cy="480.31" r="2.4"/>
<circle cx="202.95" cy="475.11" r="2.4"/>
<circle cx="198.16" cy="482.24" r="2.4"/>
<circle cx="189.82" cy="464.27" r="2.4"/>
<circle cx="184.51" cy="479.95" r="2.4"/>
<circle cx="192.59" cy="481.2" r="2.4"/>
<circle cx="184.09" cy="469.97" r="2.4"/>
<circle cx="206.65" cy="472.57" r="2.4"/>
<circle cx="188.84" cy="471.43" r="2.4"/>
<circle cx="213.83" cy="477.58" r="2.4"/>
<circle cx="192.43" cy="465.57" r="2.4"/>
<circle cx="205.74" cy="476.55" r="2.4"/>
<circle cx="197.24" cy="470.76" r="2.4"/>
<circle cx="189.29" cy="475.35" r="2.4"/>
<circle cx="197.64" cy="470.52" r="2.4"/>
<circle cx="196.02" cy="475.03" r="2.4"/>
<circle cx="196.44" cy="482.5" r="2.4"/>
<circle cx="190.75" cy="464.18" r="2.4"/>
<circle cx="196.48" cy="471.22" r="2.4"/>
<circle cx="180.96" cy="478.19" r="2.4"/>
<circle cx="216.67" cy="480.47" r="2.4"/>
<circle cx="187.49" cy="472.37" r="2.4"/>
<circle cx="197.44" cy="475.11" r="2.4"/>
<circle cx="184.15" cy="465.89" r="2.4"/>
<circle cx="201.03" cy="467.66" r="2.4"/>
<circle cx="216.36" cy="483.12" r="2.4"/>
<circle cx="190.72" cy="476.03" r="2.4"/>
<circle cx="220.68" cy="479.49" r="2.4"/>
<circle cx="192.98" cy="467.08" r="2.4"/>
<circle cx="204.72" cy="482.71" r="2.4"/>
<circle cx="216.97" cy="483.28" r="2.4"/>
<circle cx="200.11" cy="480.2" r="2.4"/>
<circle cx="197.85" cy="476.75" r="2.4"/>
<circle cx="186.4" cy="488.57" r="2.4"/>
<circle cx="196.72" cy="468.66" r="2.4"/>
<circle cx="190.53" cy="471.67" r="2.4"/>
<circle cx="185.91" cy="482.98" r="2.4"/>
<circle cx="198.34" cy="480.89" r="2.4"/>
<circle cx="182.56" cy="481.12" r="2.4"/>
<circle cx="185.95" cy="478.75" r="2.4"/>
<circle cx="200.5" cy="475.74" r="2.4"/>
<circle cx="187.88" cy="464.4" r="2.4"/>
<circle cx="198.05" cy="467.93" r="2.4"/>
<circle cx="187.89" cy="483.03" r="2.4"/>
<circle cx="185.93" cy="468" r="2.4"/>
<circle cx="195.82" cy="468.77" r="2.4"/>
<circle cx="207.49" cy="479.79" r="2.4"/>
<circle cx="197" cy="473.86" r="2.4"/>
<circle cx="184.03" cy="464.89" r="2.4"/>
<circle cx="185.61" cy="471.11" r="2.4"/>
<circle cx="181.96" cy="482.87" r="2.4"/>
<circle cx="187.64" cy="486.36" r="2.4"/>
<circle cx="197.11" cy="473.72" r="2.4"/>
<circle cx="181.3" cy="480.26" r="2.4"/>
<circle cx="211.61" cy="478.31" r="2.4"/>
<circle cx="209.35" cy="483.45" r="2.4"/>
<circle cx="218.29" cy="482.53" r="2.4"/>
<circle cx="191.87" cy="466.19" r="2.4"/>
<circle cx="182.67" cy="470.24" r="2.4"/>
<circle cx="206.45" cy="474.84" r="2.4"/>
<circle cx="180.2" cy="463.3" r="2.4"/>
<circle cx="176.7" cy="466.9" r="2.4"/>
<circle cx="187.3" cy="463.3" r="2.4"/>
<circle cx="192.2" cy="462" r="2.4"/>
<circle cx="195.7" cy="462.9" r="2.4"/>
<circle cx="200.8" cy="466.8" r="2.4"/>
<circle cx="204.4" cy="467.4" r="2.4"/>
<circle cx="214.8" cy="465.5" r="2.4"/>
<circle cx="174" cy="477.1" r="2.4"/>
<circle cx="170.4" cy="477.5" r="2.4"/>
<circle cx="176.7" cy="483.3" r="2.4"/>
<circle cx="166" cy="483.4" r="2.4"/>
<circle cx="182.9" cy="489.5" r="2.4"/>
<circle cx="189.1" cy="490.8" r="2.4"/>
<circle cx="191.3" cy="487.3" r="2.4"/>
<circle cx="227.7" cy="472.2" r="2.4"/>
<circle cx="228.5" cy="474" r="2.4"/>
<circle cx="226.8" cy="485.1" r="2.4"/>
<circle cx="223.2" cy="478.4" r="2.4"/>
<circle cx="219.7" cy="485.5" r="2.4"/>
<circle cx="211.1" cy="497.3" r="2.4"/>
<circle cx="216.6" cy="498.4" r="2.4"/>
<circle cx="212.8" cy="502.6" r="2.4"/>
<circle cx="212.8" cy="526.6" r="2.4"/>
<circle cx="193.3" cy="541" r="2.4"/>
<circle cx="201.1" cy="557.9" r="2.4"/>
<circle cx="205.5" cy="577.4" r="2.4"/>
<circle cx="256.5" cy="506.2" r="2.4"/>
<circle cx="262.1" cy="509.1" r="2.4"/>
<circle cx="315.8" cy="506.2" r="2.4"/>
<circle cx="101.3" cy="517" r="2.4"/>
<circle cx="183.3" cy="490.7" r="2.4"/>
<circle cx="188.9" cy="491.8" r="2.4"/>
</g>
<path d="M53.6,411.37 V581.73 H344.0" fill="none" stroke="#262626" stroke-width="1.1"/>
<line x1="48.5" y1="417.68" x2="53.6" y2="417.68" stroke="#262626" stroke-width="1"/>
<text x="40.9" y="417.68" transform="rotate(-90 40.9 417.68)" class="tk ty" text-anchor="middle">1.6</text>
<line x1="48.5" y1="457.12" x2="53.6" y2="457.12" stroke="#262626" stroke-width="1"/>
<text x="40.9" y="457.12" transform="rotate(-90 40.9 457.12)" class="tk ty" text-anchor="middle">1.4</text>
<line x1="48.5" y1="496.55" x2="53.6" y2="496.55" stroke="#262626" stroke-width="1"/>
<text x="40.9" y="496.55" transform="rotate(-90 40.9 496.55)" class="tk ty" text-anchor="middle">1.2</text>
<line x1="48.5" y1="535.99" x2="53.6" y2="535.99" stroke="#262626" stroke-width="1"/>
<text x="40.9" y="535.99" transform="rotate(-90 40.9 535.99)" class="tk ty" text-anchor="middle">1.0</text>
<line x1="48.5" y1="575.42" x2="53.6" y2="575.42" stroke="#262626" stroke-width="1"/>
<text x="40.9" y="575.42" transform="rotate(-90 40.9 575.42)" class="tk ty" text-anchor="middle">0.8</text>
<line x1="63.98" y1="581.73" x2="63.98" y2="587.03" stroke="#262626" stroke-width="1"/>
<text x="63.98" y="600.03" class="tk" text-anchor="middle">−6.0</text>
<line x1="108.82" y1="581.73" x2="108.82" y2="587.03" stroke="#262626" stroke-width="1"/>
<text x="108.82" y="600.03" class="tk" text-anchor="middle">−4.0</text>
<line x1="153.66" y1="581.73" x2="153.66" y2="587.03" stroke="#262626" stroke-width="1"/>
<text x="153.66" y="600.03" class="tk" text-anchor="middle">−2.0</text>
<line x1="198.5" y1="581.73" x2="198.5" y2="587.03" stroke="#262626" stroke-width="1"/>
<text x="198.5" y="600.03" class="tk" text-anchor="middle">0.0</text>
<line x1="243.34" y1="581.73" x2="243.34" y2="587.03" stroke="#262626" stroke-width="1"/>
<text x="243.34" y="600.03" class="tk" text-anchor="middle">2.0</text>
<line x1="288.18" y1="581.73" x2="288.18" y2="587.03" stroke="#262626" stroke-width="1"/>
<text x="288.18" y="600.03" class="tk" text-anchor="middle">4.0</text>
<line x1="333.02" y1="581.73" x2="333.02" y2="587.03" stroke="#262626" stroke-width="1"/>
<text x="333.02" y="600.03" class="tk" text-anchor="middle">6.0</text>
<clipPath id="c2R"><rect x="374.8" y="411.37" width="290" height="170.36"/></clipPath>
<g clip-path="url(#c2R)">
<rect x="374.8" y="411.37" width="290" height="170.36" fill="#d3d3d3"/>
<line x1="374.8" y1="417.68" x2="664.8" y2="417.68" stroke="#f1f1f1" stroke-width="1.45"/>
<line x1="374.8" y1="457.12" x2="664.8" y2="457.12" stroke="#f1f1f1" stroke-width="1.45"/>
<line x1="374.8" y1="496.55" x2="664.8" y2="496.55" stroke="#f1f1f1" stroke-width="1.45"/>
<line x1="374.8" y1="535.99" x2="664.8" y2="535.99" stroke="#f1f1f1" stroke-width="1.45"/>
<line x1="374.8" y1="575.42" x2="664.8" y2="575.42" stroke="#f1f1f1" stroke-width="1.45"/>
<path d="M531.6,417.68 L612.45,601.71 L450.75,601.71Z" fill="#bfbfbf"/>
<path d="M531.6,417.68 L593.12,601.71 L470.08,601.71Z" fill="#8c8c8c"/>
<path d="M531.6,417.68 L583.23,601.71 L479.97,601.71Z" fill="#ffffff"/>
<line x1="531.6" y1="417.68" x2="479.97" y2="601.71" stroke="#555" stroke-width="0.8" stroke-dasharray="0.9 2.3"/>
<line x1="531.6" y1="417.68" x2="583.23" y2="601.71" stroke="#555" stroke-width="0.8" stroke-dasharray="0.9 2.3"/>
<line x1="531.6" y1="417.68" x2="470.08" y2="601.71" stroke="#555" stroke-width="0.8" stroke-dasharray="0.9 2.3"/>
<line x1="531.6" y1="417.68" x2="593.12" y2="601.71" stroke="#555" stroke-width="0.8" stroke-dasharray="0.9 2.3"/>
<line x1="531.6" y1="417.68" x2="450.75" y2="601.71" stroke="#555" stroke-width="0.8" stroke-dasharray="0.9 2.3"/>
<line x1="531.6" y1="417.68" x2="612.45" y2="601.71" stroke="#555" stroke-width="0.8" stroke-dasharray="0.9 2.3"/>
<line x1="531.6" y1="417.68" x2="531.6" y2="581.73" stroke="#2a2a2a" stroke-width="1.1"/>
<circle cx="551.71" cy="457.68" r="2.4"/>
<circle cx="523" cy="449.06" r="2.4"/>
<circle cx="530.85" cy="456.43" r="2.4"/>
<circle cx="516.88" cy="458.99" r="2.4"/>
<circle cx="549.87" cy="454.45" r="2.4"/>
<circle cx="548.11" cy="457.38" r="2.4"/>
<circle cx="527.8" cy="453.33" r="2.4"/>
<circle cx="538.24" cy="451.89" r="2.4"/>
<circle cx="519.91" cy="445.28" r="2.4"/>
<circle cx="537.33" cy="454.51" r="2.4"/>
<circle cx="530.86" cy="455.68" r="2.4"/>
<circle cx="531.38" cy="453.97" r="2.4"/>
<circle cx="534.61" cy="453.67" r="2.4"/>
<circle cx="540.39" cy="453.01" r="2.4"/>
<circle cx="533.36" cy="446.81" r="2.4"/>
<circle cx="539.89" cy="450.23" r="2.4"/>
<circle cx="514.08" cy="444.48" r="2.4"/>
<circle cx="515.4" cy="458.94" r="2.4"/>
<circle cx="552.2" cy="460.79" r="2.4"/>
<circle cx="518.88" cy="455.99" r="2.4"/>
<circle cx="539.92" cy="455.19" r="2.4"/>
<circle cx="532.15" cy="449.01" r="2.4"/>
<circle cx="534.14" cy="453.02" r="2.4"/>
<circle cx="542.84" cy="452.78" r="2.4"/>
<circle cx="516.25" cy="460.79" r="2.4"/>
<circle cx="544.09" cy="455.85" r="2.4"/>
<circle cx="548.9" cy="456.5" r="2.4"/>
<circle cx="518.71" cy="463.65" r="2.4"/>
<circle cx="528.23" cy="448.22" r="2.4"/>
<circle cx="515.44" cy="456.57" r="2.4"/>
<circle cx="526.3" cy="445.42" r="2.4"/>
<circle cx="544.55" cy="459.1" r="2.4"/>
<circle cx="524.73" cy="453.11" r="2.4"/>
<circle cx="524.57" cy="462.11" r="2.4"/>
<circle cx="524.32" cy="448.23" r="2.4"/>
<circle cx="531.43" cy="454.54" r="2.4"/>
<circle cx="527.01" cy="453.52" r="2.4"/>
<circle cx="527.85" cy="454.18" r="2.4"/>
<circle cx="525" cy="449.27" r="2.4"/>
<circle cx="553.64" cy="461.35" r="2.4"/>
<circle cx="517.17" cy="456.28" r="2.4"/>
<circle cx="535.37" cy="444.48" r="2.4"/>
<circle cx="552.01" cy="458.57" r="2.4"/>
<circle cx="546.47" cy="460.63" r="2.4"/>
<circle cx="519.4" cy="451.38" r="2.4"/>
<circle cx="553.7" cy="458.71" r="2.4"/>
<circle cx="529.09" cy="450.65" r="2.4"/>
<circle cx="536.25" cy="455.1" r="2.4"/>
<circle cx="519.27" cy="454.19" r="2.4"/>
<circle cx="515.68" cy="452.77" r="2.4"/>
<circle cx="520.16" cy="453.56" r="2.4"/>
<circle cx="532.65" cy="444.69" r="2.4"/>
<circle cx="522.19" cy="464.79" r="2.4"/>
<circle cx="519.33" cy="452.12" r="2.4"/>
<circle cx="543.72" cy="460.28" r="2.4"/>
<circle cx="526.94" cy="452.19" r="2.4"/>
<circle cx="536.44" cy="447.9" r="2.4"/>
<circle cx="523.07" cy="449.27" r="2.4"/>
<circle cx="534.07" cy="447.61" r="2.4"/>
<circle cx="537.22" cy="448.06" r="2.4"/>
<circle cx="514.23" cy="446.77" r="2.4"/>
<circle cx="515.86" cy="453.73" r="2.4"/>
<circle cx="540.97" cy="457.46" r="2.4"/>
<circle cx="533.74" cy="452.3" r="2.4"/>
<circle cx="517.24" cy="456.6" r="2.4"/>
<circle cx="528.57" cy="452.13" r="2.4"/>
<circle cx="546.42" cy="453.42" r="2.4"/>
<circle cx="523.27" cy="464.22" r="2.4"/>
<circle cx="531.6" cy="448.36" r="2.4"/>
<circle cx="552.06" cy="455.31" r="2.4"/>
<circle cx="550.16" cy="455.02" r="2.4"/>
<circle cx="547.07" cy="454.9" r="2.4"/>
<circle cx="523.86" cy="459.24" r="2.4"/>
<circle cx="532.46" cy="455.42" r="2.4"/>
<circle cx="521.75" cy="461.24" r="2.4"/>
<circle cx="527.62" cy="456.77" r="2.4"/>
<circle cx="541.04" cy="458.97" r="2.4"/>
<circle cx="550.34" cy="456.45" r="2.4"/>
<circle cx="538" cy="456.03" r="2.4"/>
<circle cx="552.68" cy="455.36" r="2.4"/>
<circle cx="554.13" cy="456.63" r="2.4"/>
<circle cx="536.36" cy="455.49" r="2.4"/>
<circle cx="532.92" cy="450.74" r="2.4"/>
<circle cx="521.67" cy="448.62" r="2.4"/>
<circle cx="538.73" cy="450.02" r="2.4"/>
<circle cx="530.89" cy="448.07" r="2.4"/>
<circle cx="526.39" cy="448.55" r="2.4"/>
<circle cx="524.06" cy="451.12" r="2.4"/>
<circle cx="539.82" cy="456.49" r="2.4"/>
<circle cx="516.14" cy="444.04" r="2.4"/>
<circle cx="546.25" cy="453.39" r="2.4"/>
<circle cx="527.53" cy="454.08" r="2.4"/>
<circle cx="541.58" cy="461.39" r="2.4"/>
<circle cx="520.24" cy="445.18" r="2.4"/>
<circle cx="520.81" cy="458.27" r="2.4"/>
<circle cx="549.61" cy="458.49" r="2.4"/>
<circle cx="540.52" cy="453.89" r="2.4"/>
<circle cx="524.31" cy="448.55" r="2.4"/>
<circle cx="522.4" cy="463.38" r="2.4"/>
<circle cx="544.12" cy="451.73" r="2.4"/>
<circle cx="519.99" cy="449.8" r="2.4"/>
<circle cx="526.49" cy="457.76" r="2.4"/>
<circle cx="513.3" cy="437.2" r="2.4"/>
<circle cx="520.5" cy="437.2" r="2.4"/>
<circle cx="525.5" cy="434.4" r="2.4"/>
<circle cx="528.8" cy="435.5" r="2.4"/>
<circle cx="528.8" cy="438.3" r="2.4"/>
<circle cx="548.3" cy="440.5" r="2.4"/>
<circle cx="510" cy="442.8" r="2.4"/>
<circle cx="561.6" cy="448.9" r="2.4"/>
<circle cx="562.7" cy="451.1" r="2.4"/>
<circle cx="502.2" cy="455.5" r="2.4"/>
<circle cx="507.2" cy="455" r="2.4"/>
<circle cx="499.4" cy="461.6" r="2.4"/>
<circle cx="510" cy="461.6" r="2.4"/>
<circle cx="516.1" cy="467.2" r="2.4"/>
<circle cx="521.6" cy="468.3" r="2.4"/>
<circle cx="524.4" cy="465.5" r="2.4"/>
<circle cx="560.5" cy="463.3" r="2.4"/>
<circle cx="556" cy="456.6" r="2.4"/>
<circle cx="552.7" cy="464.4" r="2.4"/>
<circle cx="544.4" cy="474.4" r="2.4"/>
<circle cx="549.4" cy="475.5" r="2.4"/>
<circle cx="545.7" cy="479" r="2.4"/>
<circle cx="540.5" cy="463.3" r="2.4"/>
<circle cx="545.7" cy="500.7" r="2.4"/>
<circle cx="526.6" cy="514.6" r="2.4"/>
<circle cx="434.1" cy="491.8" r="2.45" fill="#ff0000"/>
<circle cx="589.9" cy="482.6" r="2.45" fill="#ff0000"/>
<circle cx="595" cy="484.9" r="2.45" fill="#ff0000"/>
<circle cx="649.2" cy="482.4" r="2.45" fill="#ff0000"/>
<circle cx="534.3" cy="531.8" r="2.45" fill="#ff0000"/>
<circle cx="538.6" cy="554.5" r="2.45" fill="#ff0000"/>
</g>
<path d="M374.4,411.37 V581.73 H664.8" fill="none" stroke="#262626" stroke-width="1.1"/>
<line x1="369.3" y1="417.68" x2="374.4" y2="417.68" stroke="#262626" stroke-width="1"/>
<text x="361.7" y="417.68" transform="rotate(-90 361.7 417.68)" class="tk ty" text-anchor="middle">0.0</text>
<line x1="369.3" y1="457.12" x2="374.4" y2="457.12" stroke="#262626" stroke-width="1"/>
<text x="361.7" y="457.12" transform="rotate(-90 361.7 457.12)" class="tk ty" text-anchor="middle">0.3</text>
<line x1="369.3" y1="496.55" x2="374.4" y2="496.55" stroke="#262626" stroke-width="1"/>
<text x="361.7" y="496.55" transform="rotate(-90 361.7 496.55)" class="tk ty" text-anchor="middle">0.6</text>
<line x1="369.3" y1="535.99" x2="374.4" y2="535.99" stroke="#262626" stroke-width="1"/>
<text x="361.7" y="535.99" transform="rotate(-90 361.7 535.99)" class="tk ty" text-anchor="middle">0.9</text>
<line x1="369.3" y1="575.42" x2="374.4" y2="575.42" stroke="#262626" stroke-width="1"/>
<text x="361.7" y="575.42" transform="rotate(-90 361.7 575.42)" class="tk ty" text-anchor="middle">1.2</text>
<line x1="385.38" y1="581.73" x2="385.38" y2="587.03" stroke="#262626" stroke-width="1"/>
<text x="385.38" y="600.03" class="tk" text-anchor="middle">−6.0</text>
<line x1="430.22" y1="581.73" x2="430.22" y2="587.03" stroke="#262626" stroke-width="1"/>
<text x="430.22" y="600.03" class="tk" text-anchor="middle">−4.0</text>
<line x1="475.06" y1="581.73" x2="475.06" y2="587.03" stroke="#262626" stroke-width="1"/>
<text x="475.06" y="600.03" class="tk" text-anchor="middle">−2.0</text>
<line x1="519.9" y1="581.73" x2="519.9" y2="587.03" stroke="#262626" stroke-width="1"/>
<text x="519.9" y="600.03" class="tk" text-anchor="middle">0.0</text>
<line x1="564.74" y1="581.73" x2="564.74" y2="587.03" stroke="#262626" stroke-width="1"/>
<text x="564.74" y="600.03" class="tk" text-anchor="middle">2.0</text>
<line x1="609.58" y1="581.73" x2="609.58" y2="587.03" stroke="#262626" stroke-width="1"/>
<text x="609.58" y="600.03" class="tk" text-anchor="middle">4.0</text>
<line x1="654.42" y1="581.73" x2="654.42" y2="587.03" stroke="#262626" stroke-width="1"/>
<text x="654.42" y="600.03" class="tk" text-anchor="middle">6.0</text>
<clipPath id="c3L"><rect x="54.0" y="612.14" width="290" height="170.64"/></clipPath>
<g clip-path="url(#c3L)">
<rect x="54.0" y="612.14" width="290" height="170.64" fill="#d3d3d3"/>
<line x1="54.0" y1="618.46" x2="344.0" y2="618.46" stroke="#f1f1f1" stroke-width="1.45"/>
<line x1="54.0" y1="657.96" x2="344.0" y2="657.96" stroke="#f1f1f1" stroke-width="1.45"/>
<line x1="54.0" y1="697.46" x2="344.0" y2="697.46" stroke="#f1f1f1" stroke-width="1.45"/>
<line x1="54.0" y1="736.96" x2="344.0" y2="736.96" stroke="#f1f1f1" stroke-width="1.45"/>
<line x1="54.0" y1="776.46" x2="344.0" y2="776.46" stroke="#f1f1f1" stroke-width="1.45"/>
<path d="M126.31,776.46 L127.2,774.49 L128.07,772.51 L128.92,770.54 L129.75,768.56 L130.56,766.59 L131.35,764.61 L132.12,762.63 L132.88,760.66 L133.61,758.69 L134.33,756.71 L135.04,754.74 L135.73,752.76 L136.4,750.79 L137.06,748.81 L137.71,746.84 L138.34,744.86 L138.96,742.88 L139.57,740.91 L140.17,738.94 L140.75,736.96 L141.32,734.99 L141.88,733.01 L142.43,731.04 L142.97,729.06 L143.5,727.09 L144.02,725.11 L144.53,723.13 L145.03,721.16 L145.52,719.19 L146,717.21 L146.47,715.24 L146.94,713.26 L147.39,711.29 L147.84,709.31 L148.28,707.34 L148.72,705.36 L149.14,703.39 L149.56,701.41 L149.97,699.44 L150.38,697.46 L150.77,695.49 L151.16,693.51 L151.55,691.54 L151.93,689.56 L152.3,687.59 L152.67,685.61 L153.03,683.63 L153.38,681.66 L153.73,679.69 L154.08,677.71 L154.42,675.74 L154.75,673.76 L155.08,671.79 L155.4,669.81 L155.72,667.84 L156.04,665.86 L156.35,663.88 L156.65,661.91 L156.95,659.94 L157.25,657.96 L157.54,655.99 L157.83,654.01 L158.12,652.03 L158.4,650.06 L158.67,648.09 L158.95,646.11 L159.21,644.13 L159.48,642.16 L159.74,640.19 L160,638.21 L160.26,636.24 L160.51,634.26 L160.76,632.29 L161,630.31 L161.24,628.34 L161.48,626.36 L161.72,624.38 L161.95,622.41 L162.18,620.44 L162.41,618.46 L162.63,616.49 L162.85,614.51 L163.07,612.54 L163.29,610.56 L163.5,608.59 L163.71,606.61 L163.92,604.64 L164.13,602.66 L164.33,600.69 L232.67,600.69 L232.87,602.66 L233.08,604.64 L233.29,606.61 L233.5,608.59 L233.71,610.56 L233.93,612.54 L234.15,614.51 L234.37,616.49 L234.59,618.46 L234.82,620.44 L235.05,622.41 L235.28,624.38 L235.52,626.36 L235.76,628.34 L236,630.31 L236.24,632.29 L236.49,634.26 L236.74,636.24 L237,638.21 L237.26,640.19 L237.52,642.16 L237.79,644.13 L238.05,646.11 L238.33,648.09 L238.6,650.06 L238.88,652.03 L239.17,654.01 L239.46,655.99 L239.75,657.96 L240.05,659.94 L240.35,661.91 L240.65,663.88 L240.96,665.86 L241.28,667.84 L241.6,669.81 L241.92,671.79 L242.25,673.76 L242.58,675.74 L242.92,677.71 L243.27,679.69 L243.62,681.66 L243.97,683.63 L244.33,685.61 L244.7,687.59 L245.07,689.56 L245.45,691.54 L245.84,693.51 L246.23,695.49 L246.62,697.46 L247.03,699.44 L247.44,701.41 L247.86,703.39 L248.28,705.36 L248.72,707.34 L249.16,709.31 L249.61,711.29 L250.06,713.26 L250.53,715.24 L251,717.21 L251.48,719.19 L251.97,721.16 L252.47,723.13 L252.98,725.11 L253.5,727.09 L254.03,729.06 L254.57,731.04 L255.12,733.01 L255.68,734.99 L256.25,736.96 L256.83,738.94 L257.43,740.91 L258.04,742.88 L258.66,744.86 L259.29,746.84 L259.94,748.81 L260.6,750.79 L261.27,752.76 L261.96,754.74 L262.67,756.71 L263.39,758.69 L264.12,760.66 L264.88,762.63 L265.65,764.61 L266.44,766.59 L267.25,768.56 L268.08,770.54 L268.93,772.51 L269.8,774.49 L270.69,776.46Z" fill="#bfbfbf"/>
<path d="M143.57,776.46 L144.25,774.49 L144.91,772.51 L145.56,770.54 L146.19,768.56 L146.8,766.59 L147.4,764.61 L147.99,762.63 L148.56,760.66 L149.13,758.69 L149.67,756.71 L150.21,754.74 L150.74,752.76 L151.25,750.79 L151.75,748.81 L152.24,746.84 L152.73,744.86 L153.2,742.88 L153.66,740.91 L154.11,738.94 L154.56,736.96 L154.99,734.99 L155.42,733.01 L155.84,731.04 L156.25,729.06 L156.65,727.09 L157.04,725.11 L157.43,723.13 L157.81,721.16 L158.19,719.19 L158.55,717.21 L158.91,715.24 L159.26,713.26 L159.61,711.29 L159.95,709.31 L160.29,707.34 L160.62,705.36 L160.94,703.39 L161.26,701.41 L161.57,699.44 L161.88,697.46 L162.18,695.49 L162.48,693.51 L162.77,691.54 L163.06,689.56 L163.35,687.59 L163.62,685.61 L163.9,683.63 L164.17,681.66 L164.44,679.69 L164.7,677.71 L164.96,675.74 L165.21,673.76 L165.46,671.79 L165.71,669.81 L165.95,667.84 L166.19,665.86 L166.42,663.88 L166.66,661.91 L166.89,659.94 L167.11,657.96 L167.33,655.99 L167.55,654.01 L167.77,652.03 L167.98,650.06 L168.19,648.09 L168.4,646.11 L168.61,644.13 L168.81,642.16 L169.01,640.19 L169.2,638.21 L169.4,636.24 L169.59,634.26 L169.78,632.29 L169.97,630.31 L170.15,628.34 L170.33,626.36 L170.51,624.38 L170.69,622.41 L170.86,620.44 L171.04,618.46 L171.21,616.49 L171.37,614.51 L171.54,612.54 L171.71,610.56 L171.87,608.59 L172.03,606.61 L172.19,604.64 L172.34,602.66 L172.5,600.69 L224.5,600.69 L224.66,602.66 L224.81,604.64 L224.97,606.61 L225.13,608.59 L225.29,610.56 L225.46,612.54 L225.63,614.51 L225.79,616.49 L225.96,618.46 L226.14,620.44 L226.31,622.41 L226.49,624.38 L226.67,626.36 L226.85,628.34 L227.03,630.31 L227.22,632.29 L227.41,634.26 L227.6,636.24 L227.8,638.21 L227.99,640.19 L228.19,642.16 L228.39,644.13 L228.6,646.11 L228.81,648.09 L229.02,650.06 L229.23,652.03 L229.45,654.01 L229.67,655.99 L229.89,657.96 L230.11,659.94 L230.34,661.91 L230.58,663.88 L230.81,665.86 L231.05,667.84 L231.29,669.81 L231.54,671.79 L231.79,673.76 L232.04,675.74 L232.3,677.71 L232.56,679.69 L232.83,681.66 L233.1,683.63 L233.38,685.61 L233.65,687.59 L233.94,689.56 L234.23,691.54 L234.52,693.51 L234.82,695.49 L235.12,697.46 L235.43,699.44 L235.74,701.41 L236.06,703.39 L236.38,705.36 L236.71,707.34 L237.05,709.31 L237.39,711.29 L237.74,713.26 L238.09,715.24 L238.45,717.21 L238.81,719.19 L239.19,721.16 L239.57,723.13 L239.96,725.11 L240.35,727.09 L240.75,729.06 L241.16,731.04 L241.58,733.01 L242.01,734.99 L242.44,736.96 L242.89,738.94 L243.34,740.91 L243.8,742.88 L244.27,744.86 L244.76,746.84 L245.25,748.81 L245.75,750.79 L246.26,752.76 L246.79,754.74 L247.33,756.71 L247.87,758.69 L248.44,760.66 L249.01,762.63 L249.6,764.61 L250.2,766.59 L250.81,768.56 L251.44,770.54 L252.09,772.51 L252.75,774.49 L253.43,776.46Z" fill="#8c8c8c"/>
<path d="M152.4,776.46 L152.97,774.49 L153.53,772.51 L154.07,770.54 L154.6,768.56 L155.11,766.59 L155.62,764.61 L156.11,762.63 L156.59,760.66 L157.06,758.69 L157.52,756.71 L157.97,754.74 L158.41,752.76 L158.85,750.79 L159.27,748.81 L159.68,746.84 L160.08,744.86 L160.48,742.88 L160.87,740.91 L161.25,738.94 L161.62,736.96 L161.99,734.99 L162.34,733.01 L162.7,731.04 L163.04,729.06 L163.38,727.09 L163.71,725.11 L164.03,723.13 L164.35,721.16 L164.67,719.19 L164.97,717.21 L165.28,715.24 L165.57,713.26 L165.86,711.29 L166.15,709.31 L166.43,707.34 L166.71,705.36 L166.98,703.39 L167.25,701.41 L167.51,699.44 L167.77,697.46 L168.02,695.49 L168.27,693.51 L168.52,691.54 L168.76,689.56 L169,687.59 L169.23,685.61 L169.46,683.63 L169.69,681.66 L169.91,679.69 L170.13,677.71 L170.35,675.74 L170.56,673.76 L170.77,671.79 L170.98,669.81 L171.18,667.84 L171.38,665.86 L171.58,663.88 L171.78,661.91 L171.97,659.94 L172.16,657.96 L172.34,655.99 L172.53,654.01 L172.71,652.03 L172.89,650.06 L173.07,648.09 L173.24,646.11 L173.41,644.13 L173.58,642.16 L173.75,640.19 L173.91,638.21 L174.08,636.24 L174.24,634.26 L174.4,632.29 L174.55,630.31 L174.71,628.34 L174.86,626.36 L175.01,624.38 L175.16,622.41 L175.31,620.44 L175.45,618.46 L175.59,616.49 L175.74,614.51 L175.88,612.54 L176.01,610.56 L176.15,608.59 L176.28,606.61 L176.42,604.64 L176.55,602.66 L176.68,600.69 L220.32,600.69 L220.45,602.66 L220.58,604.64 L220.72,606.61 L220.85,608.59 L220.99,610.56 L221.12,612.54 L221.26,614.51 L221.41,616.49 L221.55,618.46 L221.69,620.44 L221.84,622.41 L221.99,624.38 L222.14,626.36 L222.29,628.34 L222.45,630.31 L222.6,632.29 L222.76,634.26 L222.92,636.24 L223.09,638.21 L223.25,640.19 L223.42,642.16 L223.59,644.13 L223.76,646.11 L223.93,648.09 L224.11,650.06 L224.29,652.03 L224.47,654.01 L224.66,655.99 L224.84,657.96 L225.03,659.94 L225.22,661.91 L225.42,663.88 L225.62,665.86 L225.82,667.84 L226.02,669.81 L226.23,671.79 L226.44,673.76 L226.65,675.74 L226.87,677.71 L227.09,679.69 L227.31,681.66 L227.54,683.63 L227.77,685.61 L228,687.59 L228.24,689.56 L228.48,691.54 L228.73,693.51 L228.98,695.49 L229.23,697.46 L229.49,699.44 L229.75,701.41 L230.02,703.39 L230.29,705.36 L230.57,707.34 L230.85,709.31 L231.14,711.29 L231.43,713.26 L231.72,715.24 L232.03,717.21 L232.33,719.19 L232.65,721.16 L232.97,723.13 L233.29,725.11 L233.62,727.09 L233.96,729.06 L234.3,731.04 L234.66,733.01 L235.01,734.99 L235.38,736.96 L235.75,738.94 L236.13,740.91 L236.52,742.88 L236.92,744.86 L237.32,746.84 L237.73,748.81 L238.15,750.79 L238.59,752.76 L239.03,754.74 L239.48,756.71 L239.94,758.69 L240.41,760.66 L240.89,762.63 L241.38,764.61 L241.89,766.59 L242.4,768.56 L242.93,770.54 L243.47,772.51 L244.03,774.49 L244.6,776.46Z" fill="#ffffff"/>
<path d="M152.4,776.46 L152.97,774.49 L153.53,772.51 L154.07,770.54 L154.6,768.56 L155.11,766.59 L155.62,764.61 L156.11,762.63 L156.59,760.66 L157.06,758.69 L157.52,756.71 L157.97,754.74 L158.41,752.76 L158.85,750.79 L159.27,748.81 L159.68,746.84 L160.08,744.86 L160.48,742.88 L160.87,740.91 L161.25,738.94 L161.62,736.96 L161.99,734.99 L162.34,733.01 L162.7,731.04 L163.04,729.06 L163.38,727.09 L163.71,725.11 L164.03,723.13 L164.35,721.16 L164.67,719.19 L164.97,717.21 L165.28,715.24 L165.57,713.26 L165.86,711.29 L166.15,709.31 L166.43,707.34 L166.71,705.36 L166.98,703.39 L167.25,701.41 L167.51,699.44 L167.77,697.46 L168.02,695.49 L168.27,693.51 L168.52,691.54 L168.76,689.56 L169,687.59 L169.23,685.61 L169.46,683.63 L169.69,681.66 L169.91,679.69 L170.13,677.71 L170.35,675.74 L170.56,673.76 L170.77,671.79 L170.98,669.81 L171.18,667.84 L171.38,665.86 L171.58,663.88 L171.78,661.91 L171.97,659.94 L172.16,657.96 L172.34,655.99 L172.53,654.01 L172.71,652.03 L172.89,650.06 L173.07,648.09 L173.24,646.11 L173.41,644.13 L173.58,642.16 L173.75,640.19 L173.91,638.21 L174.08,636.24 L174.24,634.26 L174.4,632.29 L174.55,630.31 L174.71,628.34 L174.86,626.36 L175.01,624.38 L175.16,622.41 L175.31,620.44 L175.45,618.46 L175.59,616.49 L175.74,614.51 L175.88,612.54 L176.01,610.56 L176.15,608.59 L176.28,606.61 L176.42,604.64 L176.55,602.66 L176.68,600.69" fill="none" stroke="#555" stroke-width="0.8" stroke-dasharray="0.9 2.3"/>
<path d="M244.6,776.46 L244.03,774.49 L243.47,772.51 L242.93,770.54 L242.4,768.56 L241.89,766.59 L241.38,764.61 L240.89,762.63 L240.41,760.66 L239.94,758.69 L239.48,756.71 L239.03,754.74 L238.59,752.76 L238.15,750.79 L237.73,748.81 L237.32,746.84 L236.92,744.86 L236.52,742.88 L236.13,740.91 L235.75,738.94 L235.38,736.96 L235.01,734.99 L234.66,733.01 L234.3,731.04 L233.96,729.06 L233.62,727.09 L233.29,725.11 L232.97,723.13 L232.65,721.16 L232.33,719.19 L232.03,717.21 L231.72,715.24 L231.43,713.26 L231.14,711.29 L230.85,709.31 L230.57,707.34 L230.29,705.36 L230.02,703.39 L229.75,701.41 L229.49,699.44 L229.23,697.46 L228.98,695.49 L228.73,693.51 L228.48,691.54 L228.24,689.56 L228,687.59 L227.77,685.61 L227.54,683.63 L227.31,681.66 L227.09,679.69 L226.87,677.71 L226.65,675.74 L226.44,673.76 L226.23,671.79 L226.02,669.81 L225.82,667.84 L225.62,665.86 L225.42,663.88 L225.22,661.91 L225.03,659.94 L224.84,657.96 L224.66,655.99 L224.47,654.01 L224.29,652.03 L224.11,650.06 L223.93,648.09 L223.76,646.11 L223.59,644.13 L223.42,642.16 L223.25,640.19 L223.09,638.21 L222.92,636.24 L222.76,634.26 L222.6,632.29 L222.45,630.31 L222.29,628.34 L222.14,626.36 L221.99,624.38 L221.84,622.41 L221.69,620.44 L221.55,618.46 L221.41,616.49 L221.26,614.51 L221.12,612.54 L220.99,610.56 L220.85,608.59 L220.72,606.61 L220.58,604.64 L220.45,602.66 L220.32,600.69" fill="none" stroke="#555" stroke-width="0.8" stroke-dasharray="0.9 2.3"/>
<path d="M143.57,776.46 L144.25,774.49 L144.91,772.51 L145.56,770.54 L146.19,768.56 L146.8,766.59 L147.4,764.61 L147.99,762.63 L148.56,760.66 L149.13,758.69 L149.67,756.71 L150.21,754.74 L150.74,752.76 L151.25,750.79 L151.75,748.81 L152.24,746.84 L152.73,744.86 L153.2,742.88 L153.66,740.91 L154.11,738.94 L154.56,736.96 L154.99,734.99 L155.42,733.01 L155.84,731.04 L156.25,729.06 L156.65,727.09 L157.04,725.11 L157.43,723.13 L157.81,721.16 L158.19,719.19 L158.55,717.21 L158.91,715.24 L159.26,713.26 L159.61,711.29 L159.95,709.31 L160.29,707.34 L160.62,705.36 L160.94,703.39 L161.26,701.41 L161.57,699.44 L161.88,697.46 L162.18,695.49 L162.48,693.51 L162.77,691.54 L163.06,689.56 L163.35,687.59 L163.62,685.61 L163.9,683.63 L164.17,681.66 L164.44,679.69 L164.7,677.71 L164.96,675.74 L165.21,673.76 L165.46,671.79 L165.71,669.81 L165.95,667.84 L166.19,665.86 L166.42,663.88 L166.66,661.91 L166.89,659.94 L167.11,657.96 L167.33,655.99 L167.55,654.01 L167.77,652.03 L167.98,650.06 L168.19,648.09 L168.4,646.11 L168.61,644.13 L168.81,642.16 L169.01,640.19 L169.2,638.21 L169.4,636.24 L169.59,634.26 L169.78,632.29 L169.97,630.31 L170.15,628.34 L170.33,626.36 L170.51,624.38 L170.69,622.41 L170.86,620.44 L171.04,618.46 L171.21,616.49 L171.37,614.51 L171.54,612.54 L171.71,610.56 L171.87,608.59 L172.03,606.61 L172.19,604.64 L172.34,602.66 L172.5,600.69" fill="none" stroke="#555" stroke-width="0.8" stroke-dasharray="0.9 2.3"/>
<path d="M253.43,776.46 L252.75,774.49 L252.09,772.51 L251.44,770.54 L250.81,768.56 L250.2,766.59 L249.6,764.61 L249.01,762.63 L248.44,760.66 L247.87,758.69 L247.33,756.71 L246.79,754.74 L246.26,752.76 L245.75,750.79 L245.25,748.81 L244.76,746.84 L244.27,744.86 L243.8,742.88 L243.34,740.91 L242.89,738.94 L242.44,736.96 L242.01,734.99 L241.58,733.01 L241.16,731.04 L240.75,729.06 L240.35,727.09 L239.96,725.11 L239.57,723.13 L239.19,721.16 L238.81,719.19 L238.45,717.21 L238.09,715.24 L237.74,713.26 L237.39,711.29 L237.05,709.31 L236.71,707.34 L236.38,705.36 L236.06,703.39 L235.74,701.41 L235.43,699.44 L235.12,697.46 L234.82,695.49 L234.52,693.51 L234.23,691.54 L233.94,689.56 L233.65,687.59 L233.38,685.61 L233.1,683.63 L232.83,681.66 L232.56,679.69 L232.3,677.71 L232.04,675.74 L231.79,673.76 L231.54,671.79 L231.29,669.81 L231.05,667.84 L230.81,665.86 L230.58,663.88 L230.34,661.91 L230.11,659.94 L229.89,657.96 L229.67,655.99 L229.45,654.01 L229.23,652.03 L229.02,650.06 L228.81,648.09 L228.6,646.11 L228.39,644.13 L228.19,642.16 L227.99,640.19 L227.8,638.21 L227.6,636.24 L227.41,634.26 L227.22,632.29 L227.03,630.31 L226.85,628.34 L226.67,626.36 L226.49,624.38 L226.31,622.41 L226.14,620.44 L225.96,618.46 L225.79,616.49 L225.63,614.51 L225.46,612.54 L225.29,610.56 L225.13,608.59 L224.97,606.61 L224.81,604.64 L224.66,602.66 L224.5,600.69" fill="none" stroke="#555" stroke-width="0.8" stroke-dasharray="0.9 2.3"/>
<path d="M126.31,776.46 L127.2,774.49 L128.07,772.51 L128.92,770.54 L129.75,768.56 L130.56,766.59 L131.35,764.61 L132.12,762.63 L132.88,760.66 L133.61,758.69 L134.33,756.71 L135.04,754.74 L135.73,752.76 L136.4,750.79 L137.06,748.81 L137.71,746.84 L138.34,744.86 L138.96,742.88 L139.57,740.91 L140.17,738.94 L140.75,736.96 L141.32,734.99 L141.88,733.01 L142.43,731.04 L142.97,729.06 L143.5,727.09 L144.02,725.11 L144.53,723.13 L145.03,721.16 L145.52,719.19 L146,717.21 L146.47,715.24 L146.94,713.26 L147.39,711.29 L147.84,709.31 L148.28,707.34 L148.72,705.36 L149.14,703.39 L149.56,701.41 L149.97,699.44 L150.38,697.46 L150.77,695.49 L151.16,693.51 L151.55,691.54 L151.93,689.56 L152.3,687.59 L152.67,685.61 L153.03,683.63 L153.38,681.66 L153.73,679.69 L154.08,677.71 L154.42,675.74 L154.75,673.76 L155.08,671.79 L155.4,669.81 L155.72,667.84 L156.04,665.86 L156.35,663.88 L156.65,661.91 L156.95,659.94 L157.25,657.96 L157.54,655.99 L157.83,654.01 L158.12,652.03 L158.4,650.06 L158.67,648.09 L158.95,646.11 L159.21,644.13 L159.48,642.16 L159.74,640.19 L160,638.21 L160.26,636.24 L160.51,634.26 L160.76,632.29 L161,630.31 L161.24,628.34 L161.48,626.36 L161.72,624.38 L161.95,622.41 L162.18,620.44 L162.41,618.46 L162.63,616.49 L162.85,614.51 L163.07,612.54 L163.29,610.56 L163.5,608.59 L163.71,606.61 L163.92,604.64 L164.13,602.66 L164.33,600.69" fill="none" stroke="#555" stroke-width="0.8" stroke-dasharray="0.9 2.3"/>
<path d="M270.69,776.46 L269.8,774.49 L268.93,772.51 L268.08,770.54 L267.25,768.56 L266.44,766.59 L265.65,764.61 L264.88,762.63 L264.12,760.66 L263.39,758.69 L262.67,756.71 L261.96,754.74 L261.27,752.76 L260.6,750.79 L259.94,748.81 L259.29,746.84 L258.66,744.86 L258.04,742.88 L257.43,740.91 L256.83,738.94 L256.25,736.96 L255.68,734.99 L255.12,733.01 L254.57,731.04 L254.03,729.06 L253.5,727.09 L252.98,725.11 L252.47,723.13 L251.97,721.16 L251.48,719.19 L251,717.21 L250.53,715.24 L250.06,713.26 L249.61,711.29 L249.16,709.31 L248.72,707.34 L248.28,705.36 L247.86,703.39 L247.44,701.41 L247.03,699.44 L246.62,697.46 L246.23,695.49 L245.84,693.51 L245.45,691.54 L245.07,689.56 L244.7,687.59 L244.33,685.61 L243.97,683.63 L243.62,681.66 L243.27,679.69 L242.92,677.71 L242.58,675.74 L242.25,673.76 L241.92,671.79 L241.6,669.81 L241.28,667.84 L240.96,665.86 L240.65,663.88 L240.35,661.91 L240.05,659.94 L239.75,657.96 L239.46,655.99 L239.17,654.01 L238.88,652.03 L238.6,650.06 L238.33,648.09 L238.05,646.11 L237.79,644.13 L237.52,642.16 L237.26,640.19 L237,638.21 L236.74,636.24 L236.49,634.26 L236.24,632.29 L236,630.31 L235.76,628.34 L235.52,626.36 L235.28,624.38 L235.05,622.41 L234.82,620.44 L234.59,618.46 L234.37,616.49 L234.15,614.51 L233.93,612.54 L233.71,610.56 L233.5,608.59 L233.29,606.61 L233.08,604.64 L232.87,602.66 L232.67,600.69" fill="none" stroke="#555" stroke-width="0.8" stroke-dasharray="0.9 2.3"/>
<line x1="198.5" y1="611.14" x2="198.5" y2="776.46" stroke="#2a2a2a" stroke-width="1.1"/>
<circle cx="198.19" cy="668.66" r="2.4"/>
<circle cx="195.84" cy="675.55" r="2.4"/>
<circle cx="198.63" cy="676.18" r="2.4"/>
<circle cx="194.47" cy="678.05" r="2.4"/>
<circle cx="196.05" cy="677.66" r="2.4"/>
<circle cx="194.25" cy="673.24" r="2.4"/>
<circle cx="192.35" cy="675.62" r="2.4"/>
<circle cx="197.76" cy="679.86" r="2.4"/>
<circle cx="200.78" cy="676.2" r="2.4"/>
<circle cx="197.75" cy="671.22" r="2.4"/>
<circle cx="195.39" cy="671.45" r="2.4"/>
<circle cx="201.51" cy="675.12" r="2.4"/>
<circle cx="197.72" cy="670.44" r="2.4"/>
<circle cx="199.62" cy="670.48" r="2.4"/>
<circle cx="202.47" cy="675.59" r="2.4"/>
<circle cx="200.77" cy="670.31" r="2.4"/>
<circle cx="197.84" cy="677.1" r="2.4"/>
<circle cx="194.58" cy="676.48" r="2.4"/>
<circle cx="193.47" cy="670.67" r="2.4"/>
<circle cx="202.31" cy="675.43" r="2.4"/>
<circle cx="197.49" cy="679.62" r="2.4"/>
<circle cx="192.47" cy="674.29" r="2.4"/>
<circle cx="195.57" cy="677.84" r="2.4"/>
<circle cx="194.93" cy="672.36" r="2.4"/>
<circle cx="197.36" cy="677.9" r="2.4"/>
<circle cx="193.28" cy="672.47" r="2.4"/>
<circle cx="200.64" cy="674.08" r="2.4"/>
<circle cx="201.25" cy="673.12" r="2.4"/>
<circle cx="194.3" cy="674.69" r="2.4"/>
<circle cx="200.86" cy="674.69" r="2.4"/>
<circle cx="194.03" cy="677.06" r="2.4"/>
<circle cx="196.13" cy="668.67" r="2.4"/>
<circle cx="181.2" cy="662.4" r="2.4"/>
<circle cx="183.9" cy="662.4" r="2.4"/>
<circle cx="186.5" cy="662.4" r="2.4"/>
<circle cx="189.2" cy="662.4" r="2.4"/>
<circle cx="191" cy="662.6" r="2.4"/>
<circle cx="183.4" cy="665.1" r="2.4"/>
<circle cx="186.1" cy="664.2" r="2.4"/>
<circle cx="194.5" cy="664.2" r="2.4"/>
<circle cx="196.3" cy="666.4" r="2.4"/>
<circle cx="179.4" cy="669.5" r="2.4"/>
<circle cx="178.1" cy="673.5" r="2.4"/>
<circle cx="187.4" cy="669.5" r="2.4"/>
<circle cx="190.5" cy="670" r="2.4"/>
<circle cx="186.1" cy="676.2" r="2.4"/>
<circle cx="190.5" cy="678" r="2.4"/>
<circle cx="202.5" cy="669.1" r="2.4"/>
<circle cx="205.2" cy="672.6" r="2.4"/>
<circle cx="211.4" cy="674.4" r="2.4"/>
<circle cx="214" cy="675.3" r="2.4"/>
<circle cx="216.7" cy="676.2" r="2.4"/>
<circle cx="219.4" cy="676.6" r="2.4"/>
<circle cx="222.9" cy="677.5" r="2.4"/>
<circle cx="225.6" cy="678" r="2.4"/>
<circle cx="228.7" cy="678.9" r="2.4"/>
<circle cx="224.7" cy="682" r="2.4"/>
<circle cx="216.7" cy="680.6" r="2.4"/>
<circle cx="214.5" cy="683.3" r="2.4"/>
<circle cx="211.4" cy="683.7" r="2.4"/>
<circle cx="205.2" cy="681.5" r="2.4"/>
<circle cx="199.8" cy="685.5" r="2.4"/>
<circle cx="206.1" cy="686" r="2.4"/>
<circle cx="209.2" cy="686.8" r="2.4"/>
<circle cx="212.3" cy="688.2" r="2.4"/>
<circle cx="219.8" cy="689.5" r="2.4"/>
<circle cx="178.5" cy="691.3" r="2.4"/>
<circle cx="182.1" cy="690.8" r="2.4"/>
<circle cx="197.2" cy="681.1" r="2.4"/>
<circle cx="190.5" cy="693.8" r="2.4"/>
<circle cx="198.3" cy="694.7" r="2.4"/>
<circle cx="211.1" cy="697.7" r="2.4"/>
<circle cx="234.4" cy="700.3" r="2.4"/>
<circle cx="237.2" cy="711.1" r="2.4"/>
<circle cx="206.4" cy="673.9" r="2.4"/>
<circle cx="208.8" cy="674.5" r="2.4"/>
<circle cx="204" cy="677" r="2.4"/>
</g>
<path d="M53.6,612.14 V782.78 H344.0" fill="none" stroke="#262626" stroke-width="1.1"/>
<line x1="48.5" y1="618.46" x2="53.6" y2="618.46" stroke="#262626" stroke-width="1"/>
<text x="40.9" y="618.46" transform="rotate(-90 40.9 618.46)" class="tk ty" text-anchor="middle">1.6</text>
<line x1="48.5" y1="657.96" x2="53.6" y2="657.96" stroke="#262626" stroke-width="1"/>
<text x="40.9" y="657.96" transform="rotate(-90 40.9 657.96)" class="tk ty" text-anchor="middle">1.4</text>
<line x1="48.5" y1="697.46" x2="53.6" y2="697.46" stroke="#262626" stroke-width="1"/>
<text x="40.9" y="697.46" transform="rotate(-90 40.9 697.46)" class="tk ty" text-anchor="middle">1.2</text>
<line x1="48.5" y1="736.96" x2="53.6" y2="736.96" stroke="#262626" stroke-width="1"/>
<text x="40.9" y="736.96" transform="rotate(-90 40.9 736.96)" class="tk ty" text-anchor="middle">1.0</text>
<line x1="48.5" y1="776.46" x2="53.6" y2="776.46" stroke="#262626" stroke-width="1"/>
<text x="40.9" y="776.46" transform="rotate(-90 40.9 776.46)" class="tk ty" text-anchor="middle">0.8</text>
<line x1="63.98" y1="782.78" x2="63.98" y2="788.08" stroke="#262626" stroke-width="1"/>
<text x="63.98" y="801.08" class="tk" text-anchor="middle">−6.0</text>
<line x1="108.82" y1="782.78" x2="108.82" y2="788.08" stroke="#262626" stroke-width="1"/>
<text x="108.82" y="801.08" class="tk" text-anchor="middle">−4.0</text>
<line x1="153.66" y1="782.78" x2="153.66" y2="788.08" stroke="#262626" stroke-width="1"/>
<text x="153.66" y="801.08" class="tk" text-anchor="middle">−2.0</text>
<line x1="198.5" y1="782.78" x2="198.5" y2="788.08" stroke="#262626" stroke-width="1"/>
<text x="198.5" y="801.08" class="tk" text-anchor="middle">0.0</text>
<line x1="243.34" y1="782.78" x2="243.34" y2="788.08" stroke="#262626" stroke-width="1"/>
<text x="243.34" y="801.08" class="tk" text-anchor="middle">2.0</text>
<line x1="288.18" y1="782.78" x2="288.18" y2="788.08" stroke="#262626" stroke-width="1"/>
<text x="288.18" y="801.08" class="tk" text-anchor="middle">4.0</text>
<line x1="333.02" y1="782.78" x2="333.02" y2="788.08" stroke="#262626" stroke-width="1"/>
<text x="333.02" y="801.08" class="tk" text-anchor="middle">6.0</text>
<clipPath id="c3R"><rect x="374.8" y="612.14" width="290" height="170.64"/></clipPath>
<g clip-path="url(#c3R)">
<rect x="374.8" y="612.14" width="290" height="170.64" fill="#d3d3d3"/>
<line x1="374.8" y1="618.46" x2="664.8" y2="618.46" stroke="#f1f1f1" stroke-width="1.45"/>
<line x1="374.8" y1="657.96" x2="664.8" y2="657.96" stroke="#f1f1f1" stroke-width="1.45"/>
<line x1="374.8" y1="697.46" x2="664.8" y2="697.46" stroke="#f1f1f1" stroke-width="1.45"/>
<line x1="374.8" y1="736.96" x2="664.8" y2="736.96" stroke="#f1f1f1" stroke-width="1.45"/>
<line x1="374.8" y1="776.46" x2="664.8" y2="776.46" stroke="#f1f1f1" stroke-width="1.45"/>
<path d="M527.45,618.46 L608.3,802.79 L446.6,802.79Z" fill="#bfbfbf"/>
<path d="M527.45,618.46 L588.97,802.79 L465.93,802.79Z" fill="#8c8c8c"/>
<path d="M527.45,618.46 L579.08,802.79 L475.82,802.79Z" fill="#ffffff"/>
<line x1="527.45" y1="618.46" x2="475.82" y2="802.79" stroke="#555" stroke-width="0.8" stroke-dasharray="0.9 2.3"/>
<line x1="527.45" y1="618.46" x2="579.08" y2="802.79" stroke="#555" stroke-width="0.8" stroke-dasharray="0.9 2.3"/>
<line x1="527.45" y1="618.46" x2="465.93" y2="802.79" stroke="#555" stroke-width="0.8" stroke-dasharray="0.9 2.3"/>
<line x1="527.45" y1="618.46" x2="588.97" y2="802.79" stroke="#555" stroke-width="0.8" stroke-dasharray="0.9 2.3"/>
<line x1="527.45" y1="618.46" x2="446.6" y2="802.79" stroke="#555" stroke-width="0.8" stroke-dasharray="0.9 2.3"/>
<line x1="527.45" y1="618.46" x2="608.3" y2="802.79" stroke="#555" stroke-width="0.8" stroke-dasharray="0.9 2.3"/>
<line x1="527.45" y1="618.46" x2="527.45" y2="782.78" stroke="#2a2a2a" stroke-width="1.1"/>
<circle cx="530.1" cy="658.16" r="2.4"/>
<circle cx="530.36" cy="658.1" r="2.4"/>
<circle cx="526.14" cy="651.13" r="2.4"/>
<circle cx="532.54" cy="655.13" r="2.4"/>
<circle cx="533.01" cy="651.09" r="2.4"/>
<circle cx="532.6" cy="651.27" r="2.4"/>
<circle cx="526.88" cy="647.29" r="2.4"/>
<circle cx="529.33" cy="651.65" r="2.4"/>
<circle cx="527.8" cy="649.26" r="2.4"/>
<circle cx="529.45" cy="658.27" r="2.4"/>
<circle cx="531.86" cy="654.45" r="2.4"/>
<circle cx="532.01" cy="649.17" r="2.4"/>
<circle cx="530.6" cy="648.43" r="2.4"/>
<circle cx="533.05" cy="649.77" r="2.4"/>
<circle cx="528.56" cy="651.66" r="2.4"/>
<circle cx="529.72" cy="655.74" r="2.4"/>
<circle cx="529.98" cy="647.52" r="2.4"/>
<circle cx="530.93" cy="649.73" r="2.4"/>
<circle cx="530.31" cy="650.85" r="2.4"/>
<circle cx="528.82" cy="657" r="2.4"/>
<circle cx="528.76" cy="648.87" r="2.4"/>
<circle cx="528.14" cy="652.91" r="2.4"/>
<circle cx="529.31" cy="659.04" r="2.4"/>
<circle cx="527.95" cy="649.14" r="2.4"/>
<circle cx="525.5" cy="654.37" r="2.4"/>
<circle cx="529.44" cy="651.69" r="2.4"/>
<circle cx="511" cy="636.2" r="2.4"/>
<circle cx="513.6" cy="636.2" r="2.4"/>
<circle cx="516.3" cy="636" r="2.4"/>
<circle cx="519" cy="636" r="2.4"/>
<circle cx="520.7" cy="636.4" r="2.4"/>
<circle cx="513.6" cy="640.2" r="2.4"/>
<circle cx="516.3" cy="638.9" r="2.4"/>
<circle cx="524.7" cy="639.8" r="2.4"/>
<circle cx="509.7" cy="647.7" r="2.4"/>
<circle cx="507.4" cy="651.7" r="2.4"/>
<circle cx="517.2" cy="647.3" r="2.4"/>
<circle cx="520.3" cy="649.1" r="2.4"/>
<circle cx="515.9" cy="654" r="2.4"/>
<circle cx="520.3" cy="655.7" r="2.4"/>
<circle cx="532.3" cy="646" r="2.4"/>
<circle cx="535" cy="650.9" r="2.4"/>
<circle cx="540.3" cy="652.6" r="2.4"/>
<circle cx="544.7" cy="653.5" r="2.4"/>
<circle cx="549.1" cy="654.4" r="2.4"/>
<circle cx="553.6" cy="655.7" r="2.4"/>
<circle cx="558.5" cy="657.1" r="2.4"/>
<circle cx="554.5" cy="660.6" r="2.4"/>
<circle cx="546.5" cy="659.7" r="2.4"/>
<circle cx="542" cy="661.5" r="2.4"/>
<circle cx="538.5" cy="662.8" r="2.4"/>
<circle cx="534.4" cy="660.5" r="2.4"/>
<circle cx="529.4" cy="663.8" r="2.4"/>
<circle cx="536.1" cy="664.4" r="2.4"/>
<circle cx="542.2" cy="666.6" r="2.4"/>
<circle cx="539" cy="665.5" r="2.4"/>
<circle cx="549.7" cy="668" r="2.4"/>
<circle cx="508.3" cy="670" r="2.4"/>
<circle cx="511.6" cy="669.4" r="2.4"/>
<circle cx="520.3" cy="671.8" r="2.4"/>
<circle cx="528" cy="672.7" r="2.4"/>
<circle cx="540.8" cy="675.5" r="2.4"/>
<circle cx="564.4" cy="677.7" r="2.4"/>
<circle cx="566.6" cy="686.6" r="2.4"/>
</g>
<path d="M374.4,612.14 V782.78 H664.8" fill="none" stroke="#262626" stroke-width="1.1"/>
<line x1="369.3" y1="618.46" x2="374.4" y2="618.46" stroke="#262626" stroke-width="1"/>
<text x="361.7" y="618.46" transform="rotate(-90 361.7 618.46)" class="tk ty" text-anchor="middle">0.0</text>
<line x1="369.3" y1="657.96" x2="374.4" y2="657.96" stroke="#262626" stroke-width="1"/>
<text x="361.7" y="657.96" transform="rotate(-90 361.7 657.96)" class="tk ty" text-anchor="middle">0.3</text>
<line x1="369.3" y1="697.46" x2="374.4" y2="697.46" stroke="#262626" stroke-width="1"/>
<text x="361.7" y="697.46" transform="rotate(-90 361.7 697.46)" class="tk ty" text-anchor="middle">0.6</text>
<line x1="369.3" y1="736.96" x2="374.4" y2="736.96" stroke="#262626" stroke-width="1"/>
<text x="361.7" y="736.96" transform="rotate(-90 361.7 736.96)" class="tk ty" text-anchor="middle">0.9</text>
<line x1="369.3" y1="776.46" x2="374.4" y2="776.46" stroke="#262626" stroke-width="1"/>
<text x="361.7" y="776.46" transform="rotate(-90 361.7 776.46)" class="tk ty" text-anchor="middle">1.2</text>
<line x1="385.38" y1="782.78" x2="385.38" y2="788.08" stroke="#262626" stroke-width="1"/>
<text x="385.38" y="801.08" class="tk" text-anchor="middle">−6.0</text>
<line x1="430.22" y1="782.78" x2="430.22" y2="788.08" stroke="#262626" stroke-width="1"/>
<text x="430.22" y="801.08" class="tk" text-anchor="middle">−4.0</text>
<line x1="475.06" y1="782.78" x2="475.06" y2="788.08" stroke="#262626" stroke-width="1"/>
<text x="475.06" y="801.08" class="tk" text-anchor="middle">−2.0</text>
<line x1="519.9" y1="782.78" x2="519.9" y2="788.08" stroke="#262626" stroke-width="1"/>
<text x="519.9" y="801.08" class="tk" text-anchor="middle">0.0</text>
<line x1="564.74" y1="782.78" x2="564.74" y2="788.08" stroke="#262626" stroke-width="1"/>
<text x="564.74" y="801.08" class="tk" text-anchor="middle">2.0</text>
<line x1="609.58" y1="782.78" x2="609.58" y2="788.08" stroke="#262626" stroke-width="1"/>
<text x="609.58" y="801.08" class="tk" text-anchor="middle">4.0</text>
<line x1="654.42" y1="782.78" x2="654.42" y2="788.08" stroke="#262626" stroke-width="1"/>
<text x="654.42" y="801.08" class="tk" text-anchor="middle">6.0</text>
<text x="197.6" y="8.8" class="tt" text-anchor="middle">Residuals by Inverse Standard Error</text>
<text x="520" y="8.8" class="tt" text-anchor="middle">Effect Sizes by Standard Error</text>
<text x="28.7" y="94.4" transform="rotate(-90 28.7 94.4)" class="rl" text-anchor="middle">Simultaneous</text>
<text x="28.7" y="295.85" transform="rotate(-90 28.7 295.85)" class="rl" text-anchor="middle">Sequential</text>
<text x="28.7" y="497.3" transform="rotate(-90 28.7 497.3)" class="rl" text-anchor="middle">Mixed</text>
<text x="28.7" y="698.75" transform="rotate(-90 28.7 698.75)" class="rl" text-anchor="middle">Undefined</text>
<text x="11.6" y="396.3" transform="rotate(-90 11.6 396.3)" class="bl" text-anchor="middle">Type of Bilingual Group</text>
</svg>
</body></html>
